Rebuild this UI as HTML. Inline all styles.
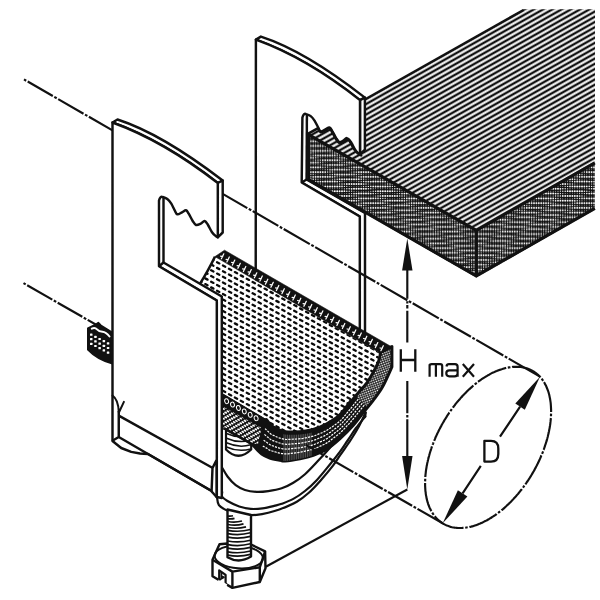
<!DOCTYPE html>
<html><head><meta charset="utf-8"><title>Pipe clamp</title>
<style>html,body{margin:0;padding:0;background:#fff;overflow:hidden;}svg{display:block;}</style></head>
<body>
<svg width="600" height="600" viewBox="0 0 600 600" style="font-family:'Liberation Sans',sans-serif">
<defs>
<pattern id="stripes" width="20" height="4.55" patternUnits="userSpaceOnUse" patternTransform="translate(523.5,10) rotate(-29.44)">
  <rect x="0" y="-1.2" width="20" height="2.4" fill="#111"/>
  <rect x="0" y="3.35" width="20" height="1.2" fill="#111"/>
</pattern>
<pattern id="mesh" width="5.93" height="5.7" patternUnits="userSpaceOnUse" patternTransform="matrix(1,0.556,0,1,262.7,320.5)">
  <rect x="-2.3" y="-1.1" width="4.6" height="2.2" rx="1.05" transform="translate(2.96,2.85) matrix(1,-0.556,0,1,0,0) rotate(27)" fill="#0a0a0a"/>
</pattern>
<pattern id="rim" width="2.2" height="2.2" patternUnits="userSpaceOnUse" patternTransform="rotate(-20)">
  <rect width="2.2" height="2.2" fill="#111"/>
  <circle cx="1.1" cy="1.1" r="0.8" fill="#fff"/>
</pattern>
<pattern id="checker" width="4.4" height="4.4" patternUnits="userSpaceOnUse" patternTransform="matrix(1,0.556,0,1,0,0)">
  <rect width="4.4" height="4.4" fill="#111"/>
  <rect x="0" y="0" width="2.2" height="2.0" fill="#fff"/>
  <rect x="2.2" y="2.2" width="2.2" height="2.0" fill="#fff"/>
</pattern>
</defs>
<defs><pattern id="denseL" width="48.0" height="47.5" patternUnits="userSpaceOnUse" patternTransform="matrix(1,0,0,1,0,0)"><rect width="48.0" height="47.5" fill="#111"/><circle cx="1.20" cy="1.19" r="0.98" fill="#fff"/><circle cx="3.60" cy="1.19" r="0.98" fill="#fff"/><circle cx="6.00" cy="1.19" r="0.98" fill="#fff"/><circle cx="8.40" cy="1.19" r="0.89" fill="#fff"/><circle cx="10.80" cy="1.19" r="0.78" fill="#fff"/><circle cx="13.20" cy="1.19" r="0.67" fill="#fff"/><circle cx="15.60" cy="1.19" r="0.59" fill="#fff"/><circle cx="18.00" cy="1.19" r="0.52" fill="#fff"/><circle cx="20.40" cy="1.19" r="0.47" fill="#fff"/><circle cx="22.80" cy="1.19" r="0.44" fill="#fff"/><circle cx="25.20" cy="1.19" r="0.43" fill="#fff"/><circle cx="27.60" cy="1.19" r="0.43" fill="#fff"/><circle cx="30.00" cy="1.19" r="0.44" fill="#fff"/><circle cx="32.40" cy="1.19" r="0.49" fill="#fff"/><circle cx="34.80" cy="1.19" r="0.57" fill="#fff"/><circle cx="37.20" cy="1.19" r="0.67" fill="#fff"/><circle cx="39.60" cy="1.19" r="0.80" fill="#fff"/><circle cx="42.00" cy="1.19" r="0.92" fill="#fff"/><circle cx="44.40" cy="1.19" r="0.98" fill="#fff"/><circle cx="46.80" cy="1.19" r="0.98" fill="#fff"/><circle cx="1.20" cy="3.56" r="0.44" fill="#fff"/><circle cx="3.60" cy="3.56" r="0.41" fill="#fff"/><circle cx="6.00" cy="3.56" r="0.40" fill="#fff"/><circle cx="8.40" cy="3.56" r="0.42" fill="#fff"/><circle cx="10.80" cy="3.56" r="0.47" fill="#fff"/><circle cx="13.20" cy="3.56" r="0.57" fill="#fff"/><circle cx="15.60" cy="3.56" r="0.69" fill="#fff"/><circle cx="18.00" cy="3.56" r="0.83" fill="#fff"/><circle cx="20.40" cy="3.56" r="0.95" fill="#fff"/><circle cx="22.80" cy="3.56" r="0.98" fill="#fff"/><circle cx="25.20" cy="3.56" r="0.98" fill="#fff"/><circle cx="27.60" cy="3.56" r="0.98" fill="#fff"/><circle cx="30.00" cy="3.56" r="0.98" fill="#fff"/><circle cx="32.40" cy="3.56" r="0.97" fill="#fff"/><circle cx="34.80" cy="3.56" r="0.87" fill="#fff"/><circle cx="37.20" cy="3.56" r="0.78" fill="#fff"/><circle cx="39.60" cy="3.56" r="0.69" fill="#fff"/><circle cx="42.00" cy="3.56" r="0.61" fill="#fff"/><circle cx="44.40" cy="3.56" r="0.55" fill="#fff"/><circle cx="46.80" cy="3.56" r="0.49" fill="#fff"/><circle cx="1.20" cy="5.94" r="0.98" fill="#fff"/><circle cx="3.60" cy="5.94" r="0.98" fill="#fff"/><circle cx="6.00" cy="5.94" r="0.98" fill="#fff"/><circle cx="8.40" cy="5.94" r="0.98" fill="#fff"/><circle cx="10.80" cy="5.94" r="0.95" fill="#fff"/><circle cx="13.20" cy="5.94" r="0.87" fill="#fff"/><circle cx="15.60" cy="5.94" r="0.80" fill="#fff"/><circle cx="18.00" cy="5.94" r="0.72" fill="#fff"/><circle cx="20.40" cy="5.94" r="0.64" fill="#fff"/><circle cx="22.80" cy="5.94" r="0.57" fill="#fff"/><circle cx="25.20" cy="5.94" r="0.49" fill="#fff"/><circle cx="27.60" cy="5.94" r="0.43" fill="#fff"/><circle cx="30.00" cy="5.94" r="0.38" fill="#fff"/><circle cx="32.40" cy="5.94" r="0.37" fill="#fff"/><circle cx="34.80" cy="5.94" r="0.40" fill="#fff"/><circle cx="37.20" cy="5.94" r="0.47" fill="#fff"/><circle cx="39.60" cy="5.94" r="0.59" fill="#fff"/><circle cx="42.00" cy="5.94" r="0.72" fill="#fff"/><circle cx="44.40" cy="5.94" r="0.85" fill="#fff"/><circle cx="46.80" cy="5.94" r="0.97" fill="#fff"/><circle cx="1.20" cy="8.31" r="0.57" fill="#fff"/><circle cx="3.60" cy="8.31" r="0.47" fill="#fff"/><circle cx="6.00" cy="8.31" r="0.40" fill="#fff"/><circle cx="8.40" cy="8.31" r="0.35" fill="#fff"/><circle cx="10.80" cy="8.31" r="0.35" fill="#fff"/><circle cx="13.20" cy="8.31" r="0.40" fill="#fff"/><circle cx="15.60" cy="8.31" r="0.49" fill="#fff"/><circle cx="18.00" cy="8.31" r="0.61" fill="#fff"/><circle cx="20.40" cy="8.31" r="0.75" fill="#fff"/><circle cx="22.80" cy="8.31" r="0.87" fill="#fff"/><circle cx="25.20" cy="8.31" r="0.97" fill="#fff"/><circle cx="27.60" cy="8.31" r="0.98" fill="#fff"/><circle cx="30.00" cy="8.31" r="0.98" fill="#fff"/><circle cx="32.40" cy="8.31" r="0.98" fill="#fff"/><circle cx="34.80" cy="8.31" r="0.98" fill="#fff"/><circle cx="37.20" cy="8.31" r="0.95" fill="#fff"/><circle cx="39.60" cy="8.31" r="0.89" fill="#fff"/><circle cx="42.00" cy="8.31" r="0.83" fill="#fff"/><circle cx="44.40" cy="8.31" r="0.75" fill="#fff"/><circle cx="46.80" cy="8.31" r="0.66" fill="#fff"/><circle cx="1.20" cy="10.69" r="0.87" fill="#fff"/><circle cx="3.60" cy="10.69" r="0.95" fill="#fff"/><circle cx="6.00" cy="10.69" r="0.98" fill="#fff"/><circle cx="8.40" cy="10.69" r="0.98" fill="#fff"/><circle cx="10.80" cy="10.69" r="0.98" fill="#fff"/><circle cx="13.20" cy="10.69" r="0.98" fill="#fff"/><circle cx="15.60" cy="10.69" r="0.97" fill="#fff"/><circle cx="18.00" cy="10.69" r="0.92" fill="#fff"/><circle cx="20.40" cy="10.69" r="0.85" fill="#fff"/><circle cx="22.80" cy="10.69" r="0.77" fill="#fff"/><circle cx="25.20" cy="10.69" r="0.66" fill="#fff"/><circle cx="27.60" cy="10.69" r="0.55" fill="#fff"/><circle cx="30.00" cy="10.69" r="0.44" fill="#fff"/><circle cx="32.40" cy="10.69" r="0.37" fill="#fff"/><circle cx="34.80" cy="10.69" r="0.33" fill="#fff"/><circle cx="37.20" cy="10.69" r="0.35" fill="#fff"/><circle cx="39.60" cy="10.69" r="0.42" fill="#fff"/><circle cx="42.00" cy="10.69" r="0.52" fill="#fff"/><circle cx="44.40" cy="10.69" r="0.64" fill="#fff"/><circle cx="46.80" cy="10.69" r="0.77" fill="#fff"/><circle cx="1.20" cy="13.06" r="0.77" fill="#fff"/><circle cx="3.60" cy="13.06" r="0.64" fill="#fff"/><circle cx="6.00" cy="13.06" r="0.52" fill="#fff"/><circle cx="8.40" cy="13.06" r="0.42" fill="#fff"/><circle cx="10.80" cy="13.06" r="0.35" fill="#fff"/><circle cx="13.20" cy="13.06" r="0.33" fill="#fff"/><circle cx="15.60" cy="13.06" r="0.37" fill="#fff"/><circle cx="18.00" cy="13.06" r="0.44" fill="#fff"/><circle cx="20.40" cy="13.06" r="0.55" fill="#fff"/><circle cx="22.80" cy="13.06" r="0.66" fill="#fff"/><circle cx="25.20" cy="13.06" r="0.77" fill="#fff"/><circle cx="27.60" cy="13.06" r="0.85" fill="#fff"/><circle cx="30.00" cy="13.06" r="0.92" fill="#fff"/><circle cx="32.40" cy="13.06" r="0.97" fill="#fff"/><circle cx="34.80" cy="13.06" r="0.98" fill="#fff"/><circle cx="37.20" cy="13.06" r="0.98" fill="#fff"/><circle cx="39.60" cy="13.06" r="0.98" fill="#fff"/><circle cx="42.00" cy="13.06" r="0.98" fill="#fff"/><circle cx="44.40" cy="13.06" r="0.95" fill="#fff"/><circle cx="46.80" cy="13.06" r="0.87" fill="#fff"/><circle cx="1.20" cy="15.44" r="0.66" fill="#fff"/><circle cx="3.60" cy="15.44" r="0.75" fill="#fff"/><circle cx="6.00" cy="15.44" r="0.83" fill="#fff"/><circle cx="8.40" cy="15.44" r="0.89" fill="#fff"/><circle cx="10.80" cy="15.44" r="0.95" fill="#fff"/><circle cx="13.20" cy="15.44" r="0.98" fill="#fff"/><circle cx="15.60" cy="15.44" r="0.98" fill="#fff"/><circle cx="18.00" cy="15.44" r="0.98" fill="#fff"/><circle cx="20.40" cy="15.44" r="0.98" fill="#fff"/><circle cx="22.80" cy="15.44" r="0.97" fill="#fff"/><circle cx="25.20" cy="15.44" r="0.87" fill="#fff"/><circle cx="27.60" cy="15.44" r="0.75" fill="#fff"/><circle cx="30.00" cy="15.44" r="0.61" fill="#fff"/><circle cx="32.40" cy="15.44" r="0.49" fill="#fff"/><circle cx="34.80" cy="15.44" r="0.40" fill="#fff"/><circle cx="37.20" cy="15.44" r="0.35" fill="#fff"/><circle cx="39.60" cy="15.44" r="0.35" fill="#fff"/><circle cx="42.00" cy="15.44" r="0.40" fill="#fff"/><circle cx="44.40" cy="15.44" r="0.47" fill="#fff"/><circle cx="46.80" cy="15.44" r="0.57" fill="#fff"/><circle cx="1.20" cy="17.81" r="0.97" fill="#fff"/><circle cx="3.60" cy="17.81" r="0.85" fill="#fff"/><circle cx="6.00" cy="17.81" r="0.72" fill="#fff"/><circle cx="8.40" cy="17.81" r="0.59" fill="#fff"/><circle cx="10.80" cy="17.81" r="0.47" fill="#fff"/><circle cx="13.20" cy="17.81" r="0.40" fill="#fff"/><circle cx="15.60" cy="17.81" r="0.37" fill="#fff"/><circle cx="18.00" cy="17.81" r="0.38" fill="#fff"/><circle cx="20.40" cy="17.81" r="0.43" fill="#fff"/><circle cx="22.80" cy="17.81" r="0.49" fill="#fff"/><circle cx="25.20" cy="17.81" r="0.57" fill="#fff"/><circle cx="27.60" cy="17.81" r="0.64" fill="#fff"/><circle cx="30.00" cy="17.81" r="0.72" fill="#fff"/><circle cx="32.40" cy="17.81" r="0.80" fill="#fff"/><circle cx="34.80" cy="17.81" r="0.87" fill="#fff"/><circle cx="37.20" cy="17.81" r="0.95" fill="#fff"/><circle cx="39.60" cy="17.81" r="0.98" fill="#fff"/><circle cx="42.00" cy="17.81" r="0.98" fill="#fff"/><circle cx="44.40" cy="17.81" r="0.98" fill="#fff"/><circle cx="46.80" cy="17.81" r="0.98" fill="#fff"/><circle cx="1.20" cy="20.19" r="0.49" fill="#fff"/><circle cx="3.60" cy="20.19" r="0.55" fill="#fff"/><circle cx="6.00" cy="20.19" r="0.61" fill="#fff"/><circle cx="8.40" cy="20.19" r="0.69" fill="#fff"/><circle cx="10.80" cy="20.19" r="0.78" fill="#fff"/><circle cx="13.20" cy="20.19" r="0.87" fill="#fff"/><circle cx="15.60" cy="20.19" r="0.97" fill="#fff"/><circle cx="18.00" cy="20.19" r="0.98" fill="#fff"/><circle cx="20.40" cy="20.19" r="0.98" fill="#fff"/><circle cx="22.80" cy="20.19" r="0.98" fill="#fff"/><circle cx="25.20" cy="20.19" r="0.98" fill="#fff"/><circle cx="27.60" cy="20.19" r="0.95" fill="#fff"/><circle cx="30.00" cy="20.19" r="0.83" fill="#fff"/><circle cx="32.40" cy="20.19" r="0.69" fill="#fff"/><circle cx="34.80" cy="20.19" r="0.57" fill="#fff"/><circle cx="37.20" cy="20.19" r="0.47" fill="#fff"/><circle cx="39.60" cy="20.19" r="0.42" fill="#fff"/><circle cx="42.00" cy="20.19" r="0.40" fill="#fff"/><circle cx="44.40" cy="20.19" r="0.41" fill="#fff"/><circle cx="46.80" cy="20.19" r="0.44" fill="#fff"/><circle cx="1.20" cy="22.56" r="0.98" fill="#fff"/><circle cx="3.60" cy="22.56" r="0.98" fill="#fff"/><circle cx="6.00" cy="22.56" r="0.92" fill="#fff"/><circle cx="8.40" cy="22.56" r="0.80" fill="#fff"/><circle cx="10.80" cy="22.56" r="0.67" fill="#fff"/><circle cx="13.20" cy="22.56" r="0.57" fill="#fff"/><circle cx="15.60" cy="22.56" r="0.49" fill="#fff"/><circle cx="18.00" cy="22.56" r="0.44" fill="#fff"/><circle cx="20.40" cy="22.56" r="0.43" fill="#fff"/><circle cx="22.80" cy="22.56" r="0.43" fill="#fff"/><circle cx="25.20" cy="22.56" r="0.44" fill="#fff"/><circle cx="27.60" cy="22.56" r="0.47" fill="#fff"/><circle cx="30.00" cy="22.56" r="0.52" fill="#fff"/><circle cx="32.40" cy="22.56" r="0.59" fill="#fff"/><circle cx="34.80" cy="22.56" r="0.67" fill="#fff"/><circle cx="37.20" cy="22.56" r="0.78" fill="#fff"/><circle cx="39.60" cy="22.56" r="0.89" fill="#fff"/><circle cx="42.00" cy="22.56" r="0.98" fill="#fff"/><circle cx="44.40" cy="22.56" r="0.98" fill="#fff"/><circle cx="46.80" cy="22.56" r="0.98" fill="#fff"/><circle cx="1.20" cy="24.94" r="0.43" fill="#fff"/><circle cx="3.60" cy="24.94" r="0.43" fill="#fff"/><circle cx="6.00" cy="24.94" r="0.44" fill="#fff"/><circle cx="8.40" cy="24.94" r="0.49" fill="#fff"/><circle cx="10.80" cy="24.94" r="0.57" fill="#fff"/><circle cx="13.20" cy="24.94" r="0.67" fill="#fff"/><circle cx="15.60" cy="24.94" r="0.80" fill="#fff"/><circle cx="18.00" cy="24.94" r="0.92" fill="#fff"/><circle cx="20.40" cy="24.94" r="0.98" fill="#fff"/><circle cx="22.80" cy="24.94" r="0.98" fill="#fff"/><circle cx="25.20" cy="24.94" r="0.98" fill="#fff"/><circle cx="27.60" cy="24.94" r="0.98" fill="#fff"/><circle cx="30.00" cy="24.94" r="0.98" fill="#fff"/><circle cx="32.40" cy="24.94" r="0.89" fill="#fff"/><circle cx="34.80" cy="24.94" r="0.78" fill="#fff"/><circle cx="37.20" cy="24.94" r="0.67" fill="#fff"/><circle cx="39.60" cy="24.94" r="0.59" fill="#fff"/><circle cx="42.00" cy="24.94" r="0.52" fill="#fff"/><circle cx="44.40" cy="24.94" r="0.47" fill="#fff"/><circle cx="46.80" cy="24.94" r="0.44" fill="#fff"/><circle cx="1.20" cy="27.31" r="0.98" fill="#fff"/><circle cx="3.60" cy="27.31" r="0.98" fill="#fff"/><circle cx="6.00" cy="27.31" r="0.98" fill="#fff"/><circle cx="8.40" cy="27.31" r="0.97" fill="#fff"/><circle cx="10.80" cy="27.31" r="0.87" fill="#fff"/><circle cx="13.20" cy="27.31" r="0.78" fill="#fff"/><circle cx="15.60" cy="27.31" r="0.69" fill="#fff"/><circle cx="18.00" cy="27.31" r="0.61" fill="#fff"/><circle cx="20.40" cy="27.31" r="0.55" fill="#fff"/><circle cx="22.80" cy="27.31" r="0.49" fill="#fff"/><circle cx="25.20" cy="27.31" r="0.44" fill="#fff"/><circle cx="27.60" cy="27.31" r="0.41" fill="#fff"/><circle cx="30.00" cy="27.31" r="0.40" fill="#fff"/><circle cx="32.40" cy="27.31" r="0.42" fill="#fff"/><circle cx="34.80" cy="27.31" r="0.47" fill="#fff"/><circle cx="37.20" cy="27.31" r="0.57" fill="#fff"/><circle cx="39.60" cy="27.31" r="0.69" fill="#fff"/><circle cx="42.00" cy="27.31" r="0.83" fill="#fff"/><circle cx="44.40" cy="27.31" r="0.95" fill="#fff"/><circle cx="46.80" cy="27.31" r="0.98" fill="#fff"/><circle cx="1.20" cy="29.69" r="0.49" fill="#fff"/><circle cx="3.60" cy="29.69" r="0.43" fill="#fff"/><circle cx="6.00" cy="29.69" r="0.38" fill="#fff"/><circle cx="8.40" cy="29.69" r="0.37" fill="#fff"/><circle cx="10.80" cy="29.69" r="0.40" fill="#fff"/><circle cx="13.20" cy="29.69" r="0.47" fill="#fff"/><circle cx="15.60" cy="29.69" r="0.59" fill="#fff"/><circle cx="18.00" cy="29.69" r="0.72" fill="#fff"/><circle cx="20.40" cy="29.69" r="0.85" fill="#fff"/><circle cx="22.80" cy="29.69" r="0.97" fill="#fff"/><circle cx="25.20" cy="29.69" r="0.98" fill="#fff"/><circle cx="27.60" cy="29.69" r="0.98" fill="#fff"/><circle cx="30.00" cy="29.69" r="0.98" fill="#fff"/><circle cx="32.40" cy="29.69" r="0.98" fill="#fff"/><circle cx="34.80" cy="29.69" r="0.95" fill="#fff"/><circle cx="37.20" cy="29.69" r="0.87" fill="#fff"/><circle cx="39.60" cy="29.69" r="0.80" fill="#fff"/><circle cx="42.00" cy="29.69" r="0.72" fill="#fff"/><circle cx="44.40" cy="29.69" r="0.64" fill="#fff"/><circle cx="46.80" cy="29.69" r="0.57" fill="#fff"/><circle cx="1.20" cy="32.06" r="0.97" fill="#fff"/><circle cx="3.60" cy="32.06" r="0.98" fill="#fff"/><circle cx="6.00" cy="32.06" r="0.98" fill="#fff"/><circle cx="8.40" cy="32.06" r="0.98" fill="#fff"/><circle cx="10.80" cy="32.06" r="0.98" fill="#fff"/><circle cx="13.20" cy="32.06" r="0.95" fill="#fff"/><circle cx="15.60" cy="32.06" r="0.89" fill="#fff"/><circle cx="18.00" cy="32.06" r="0.83" fill="#fff"/><circle cx="20.40" cy="32.06" r="0.75" fill="#fff"/><circle cx="22.80" cy="32.06" r="0.66" fill="#fff"/><circle cx="25.20" cy="32.06" r="0.57" fill="#fff"/><circle cx="27.60" cy="32.06" r="0.47" fill="#fff"/><circle cx="30.00" cy="32.06" r="0.40" fill="#fff"/><circle cx="32.40" cy="32.06" r="0.35" fill="#fff"/><circle cx="34.80" cy="32.06" r="0.35" fill="#fff"/><circle cx="37.20" cy="32.06" r="0.40" fill="#fff"/><circle cx="39.60" cy="32.06" r="0.49" fill="#fff"/><circle cx="42.00" cy="32.06" r="0.61" fill="#fff"/><circle cx="44.40" cy="32.06" r="0.75" fill="#fff"/><circle cx="46.80" cy="32.06" r="0.87" fill="#fff"/><circle cx="1.20" cy="34.44" r="0.66" fill="#fff"/><circle cx="3.60" cy="34.44" r="0.55" fill="#fff"/><circle cx="6.00" cy="34.44" r="0.44" fill="#fff"/><circle cx="8.40" cy="34.44" r="0.37" fill="#fff"/><circle cx="10.80" cy="34.44" r="0.33" fill="#fff"/><circle cx="13.20" cy="34.44" r="0.35" fill="#fff"/><circle cx="15.60" cy="34.44" r="0.42" fill="#fff"/><circle cx="18.00" cy="34.44" r="0.52" fill="#fff"/><circle cx="20.40" cy="34.44" r="0.64" fill="#fff"/><circle cx="22.80" cy="34.44" r="0.77" fill="#fff"/><circle cx="25.20" cy="34.44" r="0.87" fill="#fff"/><circle cx="27.60" cy="34.44" r="0.95" fill="#fff"/><circle cx="30.00" cy="34.44" r="0.98" fill="#fff"/><circle cx="32.40" cy="34.44" r="0.98" fill="#fff"/><circle cx="34.80" cy="34.44" r="0.98" fill="#fff"/><circle cx="37.20" cy="34.44" r="0.98" fill="#fff"/><circle cx="39.60" cy="34.44" r="0.97" fill="#fff"/><circle cx="42.00" cy="34.44" r="0.92" fill="#fff"/><circle cx="44.40" cy="34.44" r="0.85" fill="#fff"/><circle cx="46.80" cy="34.44" r="0.77" fill="#fff"/><circle cx="1.20" cy="36.81" r="0.77" fill="#fff"/><circle cx="3.60" cy="36.81" r="0.85" fill="#fff"/><circle cx="6.00" cy="36.81" r="0.92" fill="#fff"/><circle cx="8.40" cy="36.81" r="0.97" fill="#fff"/><circle cx="10.80" cy="36.81" r="0.98" fill="#fff"/><circle cx="13.20" cy="36.81" r="0.98" fill="#fff"/><circle cx="15.60" cy="36.81" r="0.98" fill="#fff"/><circle cx="18.00" cy="36.81" r="0.98" fill="#fff"/><circle cx="20.40" cy="36.81" r="0.95" fill="#fff"/><circle cx="22.80" cy="36.81" r="0.87" fill="#fff"/><circle cx="25.20" cy="36.81" r="0.77" fill="#fff"/><circle cx="27.60" cy="36.81" r="0.64" fill="#fff"/><circle cx="30.00" cy="36.81" r="0.52" fill="#fff"/><circle cx="32.40" cy="36.81" r="0.42" fill="#fff"/><circle cx="34.80" cy="36.81" r="0.35" fill="#fff"/><circle cx="37.20" cy="36.81" r="0.33" fill="#fff"/><circle cx="39.60" cy="36.81" r="0.37" fill="#fff"/><circle cx="42.00" cy="36.81" r="0.44" fill="#fff"/><circle cx="44.40" cy="36.81" r="0.55" fill="#fff"/><circle cx="46.80" cy="36.81" r="0.66" fill="#fff"/><circle cx="1.20" cy="39.19" r="0.87" fill="#fff"/><circle cx="3.60" cy="39.19" r="0.75" fill="#fff"/><circle cx="6.00" cy="39.19" r="0.61" fill="#fff"/><circle cx="8.40" cy="39.19" r="0.49" fill="#fff"/><circle cx="10.80" cy="39.19" r="0.40" fill="#fff"/><circle cx="13.20" cy="39.19" r="0.35" fill="#fff"/><circle cx="15.60" cy="39.19" r="0.35" fill="#fff"/><circle cx="18.00" cy="39.19" r="0.40" fill="#fff"/><circle cx="20.40" cy="39.19" r="0.47" fill="#fff"/><circle cx="22.80" cy="39.19" r="0.57" fill="#fff"/><circle cx="25.20" cy="39.19" r="0.66" fill="#fff"/><circle cx="27.60" cy="39.19" r="0.75" fill="#fff"/><circle cx="30.00" cy="39.19" r="0.83" fill="#fff"/><circle cx="32.40" cy="39.19" r="0.89" fill="#fff"/><circle cx="34.80" cy="39.19" r="0.95" fill="#fff"/><circle cx="37.20" cy="39.19" r="0.98" fill="#fff"/><circle cx="39.60" cy="39.19" r="0.98" fill="#fff"/><circle cx="42.00" cy="39.19" r="0.98" fill="#fff"/><circle cx="44.40" cy="39.19" r="0.98" fill="#fff"/><circle cx="46.80" cy="39.19" r="0.97" fill="#fff"/><circle cx="1.20" cy="41.56" r="0.57" fill="#fff"/><circle cx="3.60" cy="41.56" r="0.64" fill="#fff"/><circle cx="6.00" cy="41.56" r="0.72" fill="#fff"/><circle cx="8.40" cy="41.56" r="0.80" fill="#fff"/><circle cx="10.80" cy="41.56" r="0.87" fill="#fff"/><circle cx="13.20" cy="41.56" r="0.95" fill="#fff"/><circle cx="15.60" cy="41.56" r="0.98" fill="#fff"/><circle cx="18.00" cy="41.56" r="0.98" fill="#fff"/><circle cx="20.40" cy="41.56" r="0.98" fill="#fff"/><circle cx="22.80" cy="41.56" r="0.98" fill="#fff"/><circle cx="25.20" cy="41.56" r="0.97" fill="#fff"/><circle cx="27.60" cy="41.56" r="0.85" fill="#fff"/><circle cx="30.00" cy="41.56" r="0.72" fill="#fff"/><circle cx="32.40" cy="41.56" r="0.59" fill="#fff"/><circle cx="34.80" cy="41.56" r="0.47" fill="#fff"/><circle cx="37.20" cy="41.56" r="0.40" fill="#fff"/><circle cx="39.60" cy="41.56" r="0.37" fill="#fff"/><circle cx="42.00" cy="41.56" r="0.38" fill="#fff"/><circle cx="44.40" cy="41.56" r="0.43" fill="#fff"/><circle cx="46.80" cy="41.56" r="0.49" fill="#fff"/><circle cx="1.20" cy="43.94" r="0.98" fill="#fff"/><circle cx="3.60" cy="43.94" r="0.95" fill="#fff"/><circle cx="6.00" cy="43.94" r="0.83" fill="#fff"/><circle cx="8.40" cy="43.94" r="0.69" fill="#fff"/><circle cx="10.80" cy="43.94" r="0.57" fill="#fff"/><circle cx="13.20" cy="43.94" r="0.47" fill="#fff"/><circle cx="15.60" cy="43.94" r="0.42" fill="#fff"/><circle cx="18.00" cy="43.94" r="0.40" fill="#fff"/><circle cx="20.40" cy="43.94" r="0.41" fill="#fff"/><circle cx="22.80" cy="43.94" r="0.44" fill="#fff"/><circle cx="25.20" cy="43.94" r="0.49" fill="#fff"/><circle cx="27.60" cy="43.94" r="0.55" fill="#fff"/><circle cx="30.00" cy="43.94" r="0.61" fill="#fff"/><circle cx="32.40" cy="43.94" r="0.69" fill="#fff"/><circle cx="34.80" cy="43.94" r="0.78" fill="#fff"/><circle cx="37.20" cy="43.94" r="0.87" fill="#fff"/><circle cx="39.60" cy="43.94" r="0.97" fill="#fff"/><circle cx="42.00" cy="43.94" r="0.98" fill="#fff"/><circle cx="44.40" cy="43.94" r="0.98" fill="#fff"/><circle cx="46.80" cy="43.94" r="0.98" fill="#fff"/><circle cx="1.20" cy="46.31" r="0.44" fill="#fff"/><circle cx="3.60" cy="46.31" r="0.47" fill="#fff"/><circle cx="6.00" cy="46.31" r="0.52" fill="#fff"/><circle cx="8.40" cy="46.31" r="0.59" fill="#fff"/><circle cx="10.80" cy="46.31" r="0.67" fill="#fff"/><circle cx="13.20" cy="46.31" r="0.78" fill="#fff"/><circle cx="15.60" cy="46.31" r="0.89" fill="#fff"/><circle cx="18.00" cy="46.31" r="0.98" fill="#fff"/><circle cx="20.40" cy="46.31" r="0.98" fill="#fff"/><circle cx="22.80" cy="46.31" r="0.98" fill="#fff"/><circle cx="25.20" cy="46.31" r="0.98" fill="#fff"/><circle cx="27.60" cy="46.31" r="0.98" fill="#fff"/><circle cx="30.00" cy="46.31" r="0.92" fill="#fff"/><circle cx="32.40" cy="46.31" r="0.80" fill="#fff"/><circle cx="34.80" cy="46.31" r="0.67" fill="#fff"/><circle cx="37.20" cy="46.31" r="0.57" fill="#fff"/><circle cx="39.60" cy="46.31" r="0.49" fill="#fff"/><circle cx="42.00" cy="46.31" r="0.44" fill="#fff"/><circle cx="44.40" cy="46.31" r="0.43" fill="#fff"/><circle cx="46.80" cy="46.31" r="0.43" fill="#fff"/></pattern><pattern id="denseR" width="48.0" height="47.5" patternUnits="userSpaceOnUse" patternTransform="matrix(1,0,0,1,0,0)"><rect width="48.0" height="47.5" fill="#111"/><circle cx="1.20" cy="1.19" r="0.98" fill="#fff"/><circle cx="3.60" cy="1.19" r="0.98" fill="#fff"/><circle cx="6.00" cy="1.19" r="0.92" fill="#fff"/><circle cx="8.40" cy="1.19" r="0.80" fill="#fff"/><circle cx="10.80" cy="1.19" r="0.67" fill="#fff"/><circle cx="13.20" cy="1.19" r="0.57" fill="#fff"/><circle cx="15.60" cy="1.19" r="0.49" fill="#fff"/><circle cx="18.00" cy="1.19" r="0.44" fill="#fff"/><circle cx="20.40" cy="1.19" r="0.43" fill="#fff"/><circle cx="22.80" cy="1.19" r="0.43" fill="#fff"/><circle cx="25.20" cy="1.19" r="0.44" fill="#fff"/><circle cx="27.60" cy="1.19" r="0.47" fill="#fff"/><circle cx="30.00" cy="1.19" r="0.52" fill="#fff"/><circle cx="32.40" cy="1.19" r="0.59" fill="#fff"/><circle cx="34.80" cy="1.19" r="0.67" fill="#fff"/><circle cx="37.20" cy="1.19" r="0.78" fill="#fff"/><circle cx="39.60" cy="1.19" r="0.89" fill="#fff"/><circle cx="42.00" cy="1.19" r="0.98" fill="#fff"/><circle cx="44.40" cy="1.19" r="0.98" fill="#fff"/><circle cx="46.80" cy="1.19" r="0.98" fill="#fff"/><circle cx="1.20" cy="3.56" r="0.49" fill="#fff"/><circle cx="3.60" cy="3.56" r="0.55" fill="#fff"/><circle cx="6.00" cy="3.56" r="0.61" fill="#fff"/><circle cx="8.40" cy="3.56" r="0.69" fill="#fff"/><circle cx="10.80" cy="3.56" r="0.78" fill="#fff"/><circle cx="13.20" cy="3.56" r="0.87" fill="#fff"/><circle cx="15.60" cy="3.56" r="0.97" fill="#fff"/><circle cx="18.00" cy="3.56" r="0.98" fill="#fff"/><circle cx="20.40" cy="3.56" r="0.98" fill="#fff"/><circle cx="22.80" cy="3.56" r="0.98" fill="#fff"/><circle cx="25.20" cy="3.56" r="0.98" fill="#fff"/><circle cx="27.60" cy="3.56" r="0.95" fill="#fff"/><circle cx="30.00" cy="3.56" r="0.83" fill="#fff"/><circle cx="32.40" cy="3.56" r="0.69" fill="#fff"/><circle cx="34.80" cy="3.56" r="0.57" fill="#fff"/><circle cx="37.20" cy="3.56" r="0.47" fill="#fff"/><circle cx="39.60" cy="3.56" r="0.42" fill="#fff"/><circle cx="42.00" cy="3.56" r="0.40" fill="#fff"/><circle cx="44.40" cy="3.56" r="0.41" fill="#fff"/><circle cx="46.80" cy="3.56" r="0.44" fill="#fff"/><circle cx="1.20" cy="5.94" r="0.97" fill="#fff"/><circle cx="3.60" cy="5.94" r="0.85" fill="#fff"/><circle cx="6.00" cy="5.94" r="0.72" fill="#fff"/><circle cx="8.40" cy="5.94" r="0.59" fill="#fff"/><circle cx="10.80" cy="5.94" r="0.47" fill="#fff"/><circle cx="13.20" cy="5.94" r="0.40" fill="#fff"/><circle cx="15.60" cy="5.94" r="0.37" fill="#fff"/><circle cx="18.00" cy="5.94" r="0.38" fill="#fff"/><circle cx="20.40" cy="5.94" r="0.43" fill="#fff"/><circle cx="22.80" cy="5.94" r="0.49" fill="#fff"/><circle cx="25.20" cy="5.94" r="0.57" fill="#fff"/><circle cx="27.60" cy="5.94" r="0.64" fill="#fff"/><circle cx="30.00" cy="5.94" r="0.72" fill="#fff"/><circle cx="32.40" cy="5.94" r="0.80" fill="#fff"/><circle cx="34.80" cy="5.94" r="0.87" fill="#fff"/><circle cx="37.20" cy="5.94" r="0.95" fill="#fff"/><circle cx="39.60" cy="5.94" r="0.98" fill="#fff"/><circle cx="42.00" cy="5.94" r="0.98" fill="#fff"/><circle cx="44.40" cy="5.94" r="0.98" fill="#fff"/><circle cx="46.80" cy="5.94" r="0.98" fill="#fff"/><circle cx="1.20" cy="8.31" r="0.66" fill="#fff"/><circle cx="3.60" cy="8.31" r="0.75" fill="#fff"/><circle cx="6.00" cy="8.31" r="0.83" fill="#fff"/><circle cx="8.40" cy="8.31" r="0.89" fill="#fff"/><circle cx="10.80" cy="8.31" r="0.95" fill="#fff"/><circle cx="13.20" cy="8.31" r="0.98" fill="#fff"/><circle cx="15.60" cy="8.31" r="0.98" fill="#fff"/><circle cx="18.00" cy="8.31" r="0.98" fill="#fff"/><circle cx="20.40" cy="8.31" r="0.98" fill="#fff"/><circle cx="22.80" cy="8.31" r="0.97" fill="#fff"/><circle cx="25.20" cy="8.31" r="0.87" fill="#fff"/><circle cx="27.60" cy="8.31" r="0.75" fill="#fff"/><circle cx="30.00" cy="8.31" r="0.61" fill="#fff"/><circle cx="32.40" cy="8.31" r="0.49" fill="#fff"/><circle cx="34.80" cy="8.31" r="0.40" fill="#fff"/><circle cx="37.20" cy="8.31" r="0.35" fill="#fff"/><circle cx="39.60" cy="8.31" r="0.35" fill="#fff"/><circle cx="42.00" cy="8.31" r="0.40" fill="#fff"/><circle cx="44.40" cy="8.31" r="0.47" fill="#fff"/><circle cx="46.80" cy="8.31" r="0.57" fill="#fff"/><circle cx="1.20" cy="10.69" r="0.77" fill="#fff"/><circle cx="3.60" cy="10.69" r="0.64" fill="#fff"/><circle cx="6.00" cy="10.69" r="0.52" fill="#fff"/><circle cx="8.40" cy="10.69" r="0.42" fill="#fff"/><circle cx="10.80" cy="10.69" r="0.35" fill="#fff"/><circle cx="13.20" cy="10.69" r="0.33" fill="#fff"/><circle cx="15.60" cy="10.69" r="0.37" fill="#fff"/><circle cx="18.00" cy="10.69" r="0.44" fill="#fff"/><circle cx="20.40" cy="10.69" r="0.55" fill="#fff"/><circle cx="22.80" cy="10.69" r="0.66" fill="#fff"/><circle cx="25.20" cy="10.69" r="0.77" fill="#fff"/><circle cx="27.60" cy="10.69" r="0.85" fill="#fff"/><circle cx="30.00" cy="10.69" r="0.92" fill="#fff"/><circle cx="32.40" cy="10.69" r="0.97" fill="#fff"/><circle cx="34.80" cy="10.69" r="0.98" fill="#fff"/><circle cx="37.20" cy="10.69" r="0.98" fill="#fff"/><circle cx="39.60" cy="10.69" r="0.98" fill="#fff"/><circle cx="42.00" cy="10.69" r="0.98" fill="#fff"/><circle cx="44.40" cy="10.69" r="0.95" fill="#fff"/><circle cx="46.80" cy="10.69" r="0.87" fill="#fff"/><circle cx="1.20" cy="13.06" r="0.87" fill="#fff"/><circle cx="3.60" cy="13.06" r="0.95" fill="#fff"/><circle cx="6.00" cy="13.06" r="0.98" fill="#fff"/><circle cx="8.40" cy="13.06" r="0.98" fill="#fff"/><circle cx="10.80" cy="13.06" r="0.98" fill="#fff"/><circle cx="13.20" cy="13.06" r="0.98" fill="#fff"/><circle cx="15.60" cy="13.06" r="0.97" fill="#fff"/><circle cx="18.00" cy="13.06" r="0.92" fill="#fff"/><circle cx="20.40" cy="13.06" r="0.85" fill="#fff"/><circle cx="22.80" cy="13.06" r="0.77" fill="#fff"/><circle cx="25.20" cy="13.06" r="0.66" fill="#fff"/><circle cx="27.60" cy="13.06" r="0.55" fill="#fff"/><circle cx="30.00" cy="13.06" r="0.44" fill="#fff"/><circle cx="32.40" cy="13.06" r="0.37" fill="#fff"/><circle cx="34.80" cy="13.06" r="0.33" fill="#fff"/><circle cx="37.20" cy="13.06" r="0.35" fill="#fff"/><circle cx="39.60" cy="13.06" r="0.42" fill="#fff"/><circle cx="42.00" cy="13.06" r="0.52" fill="#fff"/><circle cx="44.40" cy="13.06" r="0.64" fill="#fff"/><circle cx="46.80" cy="13.06" r="0.77" fill="#fff"/><circle cx="1.20" cy="15.44" r="0.57" fill="#fff"/><circle cx="3.60" cy="15.44" r="0.47" fill="#fff"/><circle cx="6.00" cy="15.44" r="0.40" fill="#fff"/><circle cx="8.40" cy="15.44" r="0.35" fill="#fff"/><circle cx="10.80" cy="15.44" r="0.35" fill="#fff"/><circle cx="13.20" cy="15.44" r="0.40" fill="#fff"/><circle cx="15.60" cy="15.44" r="0.49" fill="#fff"/><circle cx="18.00" cy="15.44" r="0.61" fill="#fff"/><circle cx="20.40" cy="15.44" r="0.75" fill="#fff"/><circle cx="22.80" cy="15.44" r="0.87" fill="#fff"/><circle cx="25.20" cy="15.44" r="0.97" fill="#fff"/><circle cx="27.60" cy="15.44" r="0.98" fill="#fff"/><circle cx="30.00" cy="15.44" r="0.98" fill="#fff"/><circle cx="32.40" cy="15.44" r="0.98" fill="#fff"/><circle cx="34.80" cy="15.44" r="0.98" fill="#fff"/><circle cx="37.20" cy="15.44" r="0.95" fill="#fff"/><circle cx="39.60" cy="15.44" r="0.89" fill="#fff"/><circle cx="42.00" cy="15.44" r="0.83" fill="#fff"/><circle cx="44.40" cy="15.44" r="0.75" fill="#fff"/><circle cx="46.80" cy="15.44" r="0.66" fill="#fff"/><circle cx="1.20" cy="17.81" r="0.98" fill="#fff"/><circle cx="3.60" cy="17.81" r="0.98" fill="#fff"/><circle cx="6.00" cy="17.81" r="0.98" fill="#fff"/><circle cx="8.40" cy="17.81" r="0.98" fill="#fff"/><circle cx="10.80" cy="17.81" r="0.95" fill="#fff"/><circle cx="13.20" cy="17.81" r="0.87" fill="#fff"/><circle cx="15.60" cy="17.81" r="0.80" fill="#fff"/><circle cx="18.00" cy="17.81" r="0.72" fill="#fff"/><circle cx="20.40" cy="17.81" r="0.64" fill="#fff"/><circle cx="22.80" cy="17.81" r="0.57" fill="#fff"/><circle cx="25.20" cy="17.81" r="0.49" fill="#fff"/><circle cx="27.60" cy="17.81" r="0.43" fill="#fff"/><circle cx="30.00" cy="17.81" r="0.38" fill="#fff"/><circle cx="32.40" cy="17.81" r="0.37" fill="#fff"/><circle cx="34.80" cy="17.81" r="0.40" fill="#fff"/><circle cx="37.20" cy="17.81" r="0.47" fill="#fff"/><circle cx="39.60" cy="17.81" r="0.59" fill="#fff"/><circle cx="42.00" cy="17.81" r="0.72" fill="#fff"/><circle cx="44.40" cy="17.81" r="0.85" fill="#fff"/><circle cx="46.80" cy="17.81" r="0.97" fill="#fff"/><circle cx="1.20" cy="20.19" r="0.44" fill="#fff"/><circle cx="3.60" cy="20.19" r="0.41" fill="#fff"/><circle cx="6.00" cy="20.19" r="0.40" fill="#fff"/><circle cx="8.40" cy="20.19" r="0.42" fill="#fff"/><circle cx="10.80" cy="20.19" r="0.47" fill="#fff"/><circle cx="13.20" cy="20.19" r="0.57" fill="#fff"/><circle cx="15.60" cy="20.19" r="0.69" fill="#fff"/><circle cx="18.00" cy="20.19" r="0.83" fill="#fff"/><circle cx="20.40" cy="20.19" r="0.95" fill="#fff"/><circle cx="22.80" cy="20.19" r="0.98" fill="#fff"/><circle cx="25.20" cy="20.19" r="0.98" fill="#fff"/><circle cx="27.60" cy="20.19" r="0.98" fill="#fff"/><circle cx="30.00" cy="20.19" r="0.98" fill="#fff"/><circle cx="32.40" cy="20.19" r="0.97" fill="#fff"/><circle cx="34.80" cy="20.19" r="0.87" fill="#fff"/><circle cx="37.20" cy="20.19" r="0.78" fill="#fff"/><circle cx="39.60" cy="20.19" r="0.69" fill="#fff"/><circle cx="42.00" cy="20.19" r="0.61" fill="#fff"/><circle cx="44.40" cy="20.19" r="0.55" fill="#fff"/><circle cx="46.80" cy="20.19" r="0.49" fill="#fff"/><circle cx="1.20" cy="22.56" r="0.98" fill="#fff"/><circle cx="3.60" cy="22.56" r="0.98" fill="#fff"/><circle cx="6.00" cy="22.56" r="0.98" fill="#fff"/><circle cx="8.40" cy="22.56" r="0.89" fill="#fff"/><circle cx="10.80" cy="22.56" r="0.78" fill="#fff"/><circle cx="13.20" cy="22.56" r="0.67" fill="#fff"/><circle cx="15.60" cy="22.56" r="0.59" fill="#fff"/><circle cx="18.00" cy="22.56" r="0.52" fill="#fff"/><circle cx="20.40" cy="22.56" r="0.47" fill="#fff"/><circle cx="22.80" cy="22.56" r="0.44" fill="#fff"/><circle cx="25.20" cy="22.56" r="0.43" fill="#fff"/><circle cx="27.60" cy="22.56" r="0.43" fill="#fff"/><circle cx="30.00" cy="22.56" r="0.44" fill="#fff"/><circle cx="32.40" cy="22.56" r="0.49" fill="#fff"/><circle cx="34.80" cy="22.56" r="0.57" fill="#fff"/><circle cx="37.20" cy="22.56" r="0.67" fill="#fff"/><circle cx="39.60" cy="22.56" r="0.80" fill="#fff"/><circle cx="42.00" cy="22.56" r="0.92" fill="#fff"/><circle cx="44.40" cy="22.56" r="0.98" fill="#fff"/><circle cx="46.80" cy="22.56" r="0.98" fill="#fff"/><circle cx="1.20" cy="24.94" r="0.44" fill="#fff"/><circle cx="3.60" cy="24.94" r="0.47" fill="#fff"/><circle cx="6.00" cy="24.94" r="0.52" fill="#fff"/><circle cx="8.40" cy="24.94" r="0.59" fill="#fff"/><circle cx="10.80" cy="24.94" r="0.67" fill="#fff"/><circle cx="13.20" cy="24.94" r="0.78" fill="#fff"/><circle cx="15.60" cy="24.94" r="0.89" fill="#fff"/><circle cx="18.00" cy="24.94" r="0.98" fill="#fff"/><circle cx="20.40" cy="24.94" r="0.98" fill="#fff"/><circle cx="22.80" cy="24.94" r="0.98" fill="#fff"/><circle cx="25.20" cy="24.94" r="0.98" fill="#fff"/><circle cx="27.60" cy="24.94" r="0.98" fill="#fff"/><circle cx="30.00" cy="24.94" r="0.92" fill="#fff"/><circle cx="32.40" cy="24.94" r="0.80" fill="#fff"/><circle cx="34.80" cy="24.94" r="0.67" fill="#fff"/><circle cx="37.20" cy="24.94" r="0.57" fill="#fff"/><circle cx="39.60" cy="24.94" r="0.49" fill="#fff"/><circle cx="42.00" cy="24.94" r="0.44" fill="#fff"/><circle cx="44.40" cy="24.94" r="0.43" fill="#fff"/><circle cx="46.80" cy="24.94" r="0.43" fill="#fff"/><circle cx="1.20" cy="27.31" r="0.98" fill="#fff"/><circle cx="3.60" cy="27.31" r="0.95" fill="#fff"/><circle cx="6.00" cy="27.31" r="0.83" fill="#fff"/><circle cx="8.40" cy="27.31" r="0.69" fill="#fff"/><circle cx="10.80" cy="27.31" r="0.57" fill="#fff"/><circle cx="13.20" cy="27.31" r="0.47" fill="#fff"/><circle cx="15.60" cy="27.31" r="0.42" fill="#fff"/><circle cx="18.00" cy="27.31" r="0.40" fill="#fff"/><circle cx="20.40" cy="27.31" r="0.41" fill="#fff"/><circle cx="22.80" cy="27.31" r="0.44" fill="#fff"/><circle cx="25.20" cy="27.31" r="0.49" fill="#fff"/><circle cx="27.60" cy="27.31" r="0.55" fill="#fff"/><circle cx="30.00" cy="27.31" r="0.61" fill="#fff"/><circle cx="32.40" cy="27.31" r="0.69" fill="#fff"/><circle cx="34.80" cy="27.31" r="0.78" fill="#fff"/><circle cx="37.20" cy="27.31" r="0.87" fill="#fff"/><circle cx="39.60" cy="27.31" r="0.97" fill="#fff"/><circle cx="42.00" cy="27.31" r="0.98" fill="#fff"/><circle cx="44.40" cy="27.31" r="0.98" fill="#fff"/><circle cx="46.80" cy="27.31" r="0.98" fill="#fff"/><circle cx="1.20" cy="29.69" r="0.57" fill="#fff"/><circle cx="3.60" cy="29.69" r="0.64" fill="#fff"/><circle cx="6.00" cy="29.69" r="0.72" fill="#fff"/><circle cx="8.40" cy="29.69" r="0.80" fill="#fff"/><circle cx="10.80" cy="29.69" r="0.87" fill="#fff"/><circle cx="13.20" cy="29.69" r="0.95" fill="#fff"/><circle cx="15.60" cy="29.69" r="0.98" fill="#fff"/><circle cx="18.00" cy="29.69" r="0.98" fill="#fff"/><circle cx="20.40" cy="29.69" r="0.98" fill="#fff"/><circle cx="22.80" cy="29.69" r="0.98" fill="#fff"/><circle cx="25.20" cy="29.69" r="0.97" fill="#fff"/><circle cx="27.60" cy="29.69" r="0.85" fill="#fff"/><circle cx="30.00" cy="29.69" r="0.72" fill="#fff"/><circle cx="32.40" cy="29.69" r="0.59" fill="#fff"/><circle cx="34.80" cy="29.69" r="0.47" fill="#fff"/><circle cx="37.20" cy="29.69" r="0.40" fill="#fff"/><circle cx="39.60" cy="29.69" r="0.37" fill="#fff"/><circle cx="42.00" cy="29.69" r="0.38" fill="#fff"/><circle cx="44.40" cy="29.69" r="0.43" fill="#fff"/><circle cx="46.80" cy="29.69" r="0.49" fill="#fff"/><circle cx="1.20" cy="32.06" r="0.87" fill="#fff"/><circle cx="3.60" cy="32.06" r="0.75" fill="#fff"/><circle cx="6.00" cy="32.06" r="0.61" fill="#fff"/><circle cx="8.40" cy="32.06" r="0.49" fill="#fff"/><circle cx="10.80" cy="32.06" r="0.40" fill="#fff"/><circle cx="13.20" cy="32.06" r="0.35" fill="#fff"/><circle cx="15.60" cy="32.06" r="0.35" fill="#fff"/><circle cx="18.00" cy="32.06" r="0.40" fill="#fff"/><circle cx="20.40" cy="32.06" r="0.47" fill="#fff"/><circle cx="22.80" cy="32.06" r="0.57" fill="#fff"/><circle cx="25.20" cy="32.06" r="0.66" fill="#fff"/><circle cx="27.60" cy="32.06" r="0.75" fill="#fff"/><circle cx="30.00" cy="32.06" r="0.83" fill="#fff"/><circle cx="32.40" cy="32.06" r="0.89" fill="#fff"/><circle cx="34.80" cy="32.06" r="0.95" fill="#fff"/><circle cx="37.20" cy="32.06" r="0.98" fill="#fff"/><circle cx="39.60" cy="32.06" r="0.98" fill="#fff"/><circle cx="42.00" cy="32.06" r="0.98" fill="#fff"/><circle cx="44.40" cy="32.06" r="0.98" fill="#fff"/><circle cx="46.80" cy="32.06" r="0.97" fill="#fff"/><circle cx="1.20" cy="34.44" r="0.77" fill="#fff"/><circle cx="3.60" cy="34.44" r="0.85" fill="#fff"/><circle cx="6.00" cy="34.44" r="0.92" fill="#fff"/><circle cx="8.40" cy="34.44" r="0.97" fill="#fff"/><circle cx="10.80" cy="34.44" r="0.98" fill="#fff"/><circle cx="13.20" cy="34.44" r="0.98" fill="#fff"/><circle cx="15.60" cy="34.44" r="0.98" fill="#fff"/><circle cx="18.00" cy="34.44" r="0.98" fill="#fff"/><circle cx="20.40" cy="34.44" r="0.95" fill="#fff"/><circle cx="22.80" cy="34.44" r="0.87" fill="#fff"/><circle cx="25.20" cy="34.44" r="0.77" fill="#fff"/><circle cx="27.60" cy="34.44" r="0.64" fill="#fff"/><circle cx="30.00" cy="34.44" r="0.52" fill="#fff"/><circle cx="32.40" cy="34.44" r="0.42" fill="#fff"/><circle cx="34.80" cy="34.44" r="0.35" fill="#fff"/><circle cx="37.20" cy="34.44" r="0.33" fill="#fff"/><circle cx="39.60" cy="34.44" r="0.37" fill="#fff"/><circle cx="42.00" cy="34.44" r="0.44" fill="#fff"/><circle cx="44.40" cy="34.44" r="0.55" fill="#fff"/><circle cx="46.80" cy="34.44" r="0.66" fill="#fff"/><circle cx="1.20" cy="36.81" r="0.66" fill="#fff"/><circle cx="3.60" cy="36.81" r="0.55" fill="#fff"/><circle cx="6.00" cy="36.81" r="0.44" fill="#fff"/><circle cx="8.40" cy="36.81" r="0.37" fill="#fff"/><circle cx="10.80" cy="36.81" r="0.33" fill="#fff"/><circle cx="13.20" cy="36.81" r="0.35" fill="#fff"/><circle cx="15.60" cy="36.81" r="0.42" fill="#fff"/><circle cx="18.00" cy="36.81" r="0.52" fill="#fff"/><circle cx="20.40" cy="36.81" r="0.64" fill="#fff"/><circle cx="22.80" cy="36.81" r="0.77" fill="#fff"/><circle cx="25.20" cy="36.81" r="0.87" fill="#fff"/><circle cx="27.60" cy="36.81" r="0.95" fill="#fff"/><circle cx="30.00" cy="36.81" r="0.98" fill="#fff"/><circle cx="32.40" cy="36.81" r="0.98" fill="#fff"/><circle cx="34.80" cy="36.81" r="0.98" fill="#fff"/><circle cx="37.20" cy="36.81" r="0.98" fill="#fff"/><circle cx="39.60" cy="36.81" r="0.97" fill="#fff"/><circle cx="42.00" cy="36.81" r="0.92" fill="#fff"/><circle cx="44.40" cy="36.81" r="0.85" fill="#fff"/><circle cx="46.80" cy="36.81" r="0.77" fill="#fff"/><circle cx="1.20" cy="39.19" r="0.97" fill="#fff"/><circle cx="3.60" cy="39.19" r="0.98" fill="#fff"/><circle cx="6.00" cy="39.19" r="0.98" fill="#fff"/><circle cx="8.40" cy="39.19" r="0.98" fill="#fff"/><circle cx="10.80" cy="39.19" r="0.98" fill="#fff"/><circle cx="13.20" cy="39.19" r="0.95" fill="#fff"/><circle cx="15.60" cy="39.19" r="0.89" fill="#fff"/><circle cx="18.00" cy="39.19" r="0.83" fill="#fff"/><circle cx="20.40" cy="39.19" r="0.75" fill="#fff"/><circle cx="22.80" cy="39.19" r="0.66" fill="#fff"/><circle cx="25.20" cy="39.19" r="0.57" fill="#fff"/><circle cx="27.60" cy="39.19" r="0.47" fill="#fff"/><circle cx="30.00" cy="39.19" r="0.40" fill="#fff"/><circle cx="32.40" cy="39.19" r="0.35" fill="#fff"/><circle cx="34.80" cy="39.19" r="0.35" fill="#fff"/><circle cx="37.20" cy="39.19" r="0.40" fill="#fff"/><circle cx="39.60" cy="39.19" r="0.49" fill="#fff"/><circle cx="42.00" cy="39.19" r="0.61" fill="#fff"/><circle cx="44.40" cy="39.19" r="0.75" fill="#fff"/><circle cx="46.80" cy="39.19" r="0.87" fill="#fff"/><circle cx="1.20" cy="41.56" r="0.49" fill="#fff"/><circle cx="3.60" cy="41.56" r="0.43" fill="#fff"/><circle cx="6.00" cy="41.56" r="0.38" fill="#fff"/><circle cx="8.40" cy="41.56" r="0.37" fill="#fff"/><circle cx="10.80" cy="41.56" r="0.40" fill="#fff"/><circle cx="13.20" cy="41.56" r="0.47" fill="#fff"/><circle cx="15.60" cy="41.56" r="0.59" fill="#fff"/><circle cx="18.00" cy="41.56" r="0.72" fill="#fff"/><circle cx="20.40" cy="41.56" r="0.85" fill="#fff"/><circle cx="22.80" cy="41.56" r="0.97" fill="#fff"/><circle cx="25.20" cy="41.56" r="0.98" fill="#fff"/><circle cx="27.60" cy="41.56" r="0.98" fill="#fff"/><circle cx="30.00" cy="41.56" r="0.98" fill="#fff"/><circle cx="32.40" cy="41.56" r="0.98" fill="#fff"/><circle cx="34.80" cy="41.56" r="0.95" fill="#fff"/><circle cx="37.20" cy="41.56" r="0.87" fill="#fff"/><circle cx="39.60" cy="41.56" r="0.80" fill="#fff"/><circle cx="42.00" cy="41.56" r="0.72" fill="#fff"/><circle cx="44.40" cy="41.56" r="0.64" fill="#fff"/><circle cx="46.80" cy="41.56" r="0.57" fill="#fff"/><circle cx="1.20" cy="43.94" r="0.98" fill="#fff"/><circle cx="3.60" cy="43.94" r="0.98" fill="#fff"/><circle cx="6.00" cy="43.94" r="0.98" fill="#fff"/><circle cx="8.40" cy="43.94" r="0.97" fill="#fff"/><circle cx="10.80" cy="43.94" r="0.87" fill="#fff"/><circle cx="13.20" cy="43.94" r="0.78" fill="#fff"/><circle cx="15.60" cy="43.94" r="0.69" fill="#fff"/><circle cx="18.00" cy="43.94" r="0.61" fill="#fff"/><circle cx="20.40" cy="43.94" r="0.55" fill="#fff"/><circle cx="22.80" cy="43.94" r="0.49" fill="#fff"/><circle cx="25.20" cy="43.94" r="0.44" fill="#fff"/><circle cx="27.60" cy="43.94" r="0.41" fill="#fff"/><circle cx="30.00" cy="43.94" r="0.40" fill="#fff"/><circle cx="32.40" cy="43.94" r="0.42" fill="#fff"/><circle cx="34.80" cy="43.94" r="0.47" fill="#fff"/><circle cx="37.20" cy="43.94" r="0.57" fill="#fff"/><circle cx="39.60" cy="43.94" r="0.69" fill="#fff"/><circle cx="42.00" cy="43.94" r="0.83" fill="#fff"/><circle cx="44.40" cy="43.94" r="0.95" fill="#fff"/><circle cx="46.80" cy="43.94" r="0.98" fill="#fff"/><circle cx="1.20" cy="46.31" r="0.43" fill="#fff"/><circle cx="3.60" cy="46.31" r="0.43" fill="#fff"/><circle cx="6.00" cy="46.31" r="0.44" fill="#fff"/><circle cx="8.40" cy="46.31" r="0.49" fill="#fff"/><circle cx="10.80" cy="46.31" r="0.57" fill="#fff"/><circle cx="13.20" cy="46.31" r="0.67" fill="#fff"/><circle cx="15.60" cy="46.31" r="0.80" fill="#fff"/><circle cx="18.00" cy="46.31" r="0.92" fill="#fff"/><circle cx="20.40" cy="46.31" r="0.98" fill="#fff"/><circle cx="22.80" cy="46.31" r="0.98" fill="#fff"/><circle cx="25.20" cy="46.31" r="0.98" fill="#fff"/><circle cx="27.60" cy="46.31" r="0.98" fill="#fff"/><circle cx="30.00" cy="46.31" r="0.98" fill="#fff"/><circle cx="32.40" cy="46.31" r="0.89" fill="#fff"/><circle cx="34.80" cy="46.31" r="0.78" fill="#fff"/><circle cx="37.20" cy="46.31" r="0.67" fill="#fff"/><circle cx="39.60" cy="46.31" r="0.59" fill="#fff"/><circle cx="42.00" cy="46.31" r="0.52" fill="#fff"/><circle cx="44.40" cy="46.31" r="0.47" fill="#fff"/><circle cx="46.80" cy="46.31" r="0.44" fill="#fff"/></pattern></defs>
<rect width="600" height="600" fill="#fff"/>
<path d="M308.0,133.5 L476.3,229.0 L595.0,161.3 L595.0,9.3 L523.5,9.3 L365.3,99.3 L365.3,101.5Z" fill="url(#stripes)" stroke="none"/>
<path d="M365.3,99.3 L523.5,10" fill="none" stroke="#111" stroke-width="2.4"/>
<path d="M308.5,133.5 L476.3,229.0 L476.3,277.6 L308.5,181.0Z" fill="url(#denseL)" stroke="none"/>
<path d="M476.3,229.0 L594.8,161.4 L594.8,209.8 L476.3,277.6Z" fill="url(#denseR)" stroke="none"/>
<path d="M308.5,134.7 L476.3,230.3 L594.8,162.9" fill="none" stroke="#111" stroke-width="3.2" stroke-linejoin="miter"/>
<path d="M476.3,229.0 L476.3,276.6" fill="none" stroke="#111" stroke-width="3.0"/>
<path d="M308.5,179.6 L476.3,275.90000000000003 L594.8,208.3" fill="none" stroke="#111" stroke-width="3.2" stroke-linejoin="miter"/>
<path d="M255.9,39.6 L260.9,36.6 Q304.9,50.8 364.9,97.6 L360.0,100.1 Q306.6,57.8 255.9,39.6Z" fill="#fff" stroke="#111" stroke-width="2.45" stroke-linejoin="round" stroke-linecap="round"/>
<path d="M360.0,100.1 L364.9,97.6 L364.9,149.6 L360.0,154.4Z" fill="#fff" stroke="#111" stroke-width="2.45" stroke-linejoin="round" stroke-linecap="round"/>
<path d="M301.7,182.5 L306.6,179.5 L365,213 L365,346 L359.8,345 L359.8,216.5Z" fill="#fff" stroke="#111" stroke-width="2.45" stroke-linejoin="round" stroke-linecap="round"/>
<path d="M255.9,39.6 Q306.6,57.8 360.0,100.1 L360.0,154.4  C359.7,154.2 359.2,154.2 358.2,153.4 C357.2,152.6 355.5,151.3 354.2,149.4 C352.9,147.5 351.4,144.0 350.2,142.1 C349.0,140.2 348.1,138.3 346.9,138.1 C345.7,137.9 344.2,140.1 342.9,140.8 C341.7,141.5 340.5,142.5 339.4,142.1 C338.3,141.7 337.3,140.0 336.1,138.1 C334.9,136.2 333.2,132.6 332.1,130.8 C331.0,129.0 330.5,127.6 329.4,127.4 C328.3,127.2 326.8,128.7 325.4,129.4 C323.9,130.1 321.9,131.7 320.7,131.4 C319.5,131.1 319.1,129.2 318.1,127.4 C317.1,125.6 315.9,122.7 314.7,120.8 C313.5,118.9 312.1,117.2 310.7,116.1 C309.3,115.0 306.9,114.4 306.1,114.1 Q303.6,112.9 302.4,117.6 L301.7,182.5 L359.8,216.5 L359.8,345 L255.7,290Z" fill="#fff" stroke="#111" stroke-width="2.45" stroke-linejoin="round" stroke-linecap="round"/>
<path d="M306.9,115.1 L306.6,179.5" fill="none" stroke="#111" stroke-width="2.45"/>
<path d="M308.7,133.2 L308.7,180 L365,212.3" fill="none" stroke="#111" stroke-width="3"/>
<path d="M308.7,133.4 L317.2,128.6" fill="none" stroke="#111" stroke-width="2.6" stroke-linecap="round"/>
<path d="M318.1,128.3 C318.5,129.0 319.5,132.0 320.7,132.3 C321.9,132.6 323.9,131.0 325.4,130.3 C326.8,129.6 328.3,128.1 329.4,128.3 C330.5,128.5 331.0,129.9 332.1,131.7 C333.2,133.5 334.9,137.1 336.1,139.0 C337.3,140.9 338.1,142.6 339.4,143.0 C340.7,143.4 342.7,142.4 344.1,141.7 C345.6,141.0 346.9,138.8 348.1,139.0 C349.3,139.2 350.2,141.1 351.4,143.0 C352.6,144.9 354.1,148.4 355.4,150.3 C356.7,152.2 358.4,153.5 359.4,154.3 C360.4,155.1 360.9,155.1 361.2,155.3" fill="none" stroke="#111" stroke-width="2.6" stroke-linecap="round"/>
<path d="M24.0,79.4 L26.2,80.7 M27.7,81.5 L52.8,96.0 M54.3,96.9 L56.7,98.3 M58.2,99.1 L83.5,113.7 M85.0,114.6 L87.4,115.9 M88.9,116.8 L112.5,130.4" fill="none" stroke="#111" stroke-width="2.15"/>
<path d="M222.7,193.9 L247.3,208.1 M248.8,208.9 L251.2,210.3 M252.7,211.1 L278.3,225.9 M279.8,226.8 L282.2,228.2 M283.7,229.0 L309.8,244.1 M311.3,244.9 L313.7,246.3 M315.2,247.1 L342.8,263.1 M344.3,263.9 L346.7,265.3 M348.2,266.2 L375.3,281.8 M376.8,282.6 L379.2,284.0 M380.7,284.9 L407.3,300.2 M408.8,301.1 L411.2,302.5 M412.7,303.3 L438.8,318.4 M440.3,319.2 L442.7,320.6 M444.2,321.5 L470.9,336.8 M472.4,337.7 L474.8,339.1 M476.3,339.9 L503.3,355.5 M504.8,356.4 L507.2,357.8 M508.7,358.6 L540.0,376.6" fill="none" stroke="#111" stroke-width="2.15"/>
<path d="M23.5,283.1 L25.7,284.4 M27.2,285.2 L52.3,299.6 M53.8,300.5 L56.2,301.9 M57.7,302.7 L82.3,316.8 M83.8,317.7 L86.2,319.1 M87.7,319.9 L97.0,325.2" fill="none" stroke="#111" stroke-width="2.15"/>
<path d="M433.7,514.8 L432.9,513.7 L432.2,512.6 M431.4,511.2 C431.2,510.9 430.7,510.0 430.5,509.4 C430.2,508.9 429.9,508.3 429.6,507.7 C429.4,507.1 429.1,506.5 428.9,505.9 C428.7,505.3 428.4,504.7 428.2,504.1 C428.0,503.4 427.8,502.8 427.6,502.2 C427.4,501.6 427.3,501.0 427.1,500.3 C426.9,499.7 426.8,499.1 426.6,498.4 C426.5,497.8 426.4,497.2 426.3,496.5 C426.1,495.9 426.0,495.3 425.9,494.6 C425.8,494.0 425.7,493.3 425.7,492.7 C425.6,492.1 425.5,491.4 425.4,490.8 C425.4,490.1 425.3,489.5 425.3,488.8 C425.2,488.2 425.2,487.5 425.2,486.9 C425.1,486.2 425.1,485.6 425.1,484.9 C425.1,484.3 425.1,483.3 425.1,483.0 M425.1,481.3 L425.2,480.0 L425.2,478.7 M425.3,477.0 C425.3,476.7 425.4,475.7 425.5,475.0 C425.5,474.4 425.6,473.7 425.7,473.1 C425.8,472.4 425.8,471.8 425.9,471.1 C426.0,470.5 426.1,469.8 426.2,469.2 C426.3,468.6 426.4,467.9 426.5,467.3 C426.6,466.6 426.7,466.0 426.9,465.3 C427.0,464.7 427.1,464.0 427.2,463.4 C427.4,462.8 427.5,462.1 427.7,461.5 C427.8,460.8 427.9,460.2 428.1,459.6 C428.3,458.9 428.4,458.3 428.6,457.7 C428.7,457.0 428.9,456.4 429.1,455.8 C429.3,455.1 429.4,454.5 429.6,453.9 C429.8,453.2 430.0,452.6 430.2,452.0 C430.4,451.4 430.6,450.7 430.8,450.1 C431.0,449.5 431.2,448.9 431.4,448.3 C431.6,447.6 431.9,446.7 432.0,446.4 M432.6,444.8 L433.1,443.6 L433.5,442.4 M434.2,440.8 C434.3,440.5 434.7,439.6 434.9,439.1 C435.1,438.5 435.4,437.9 435.6,437.3 C435.9,436.7 436.2,436.2 436.4,435.6 C436.7,435.0 436.9,434.4 437.2,433.9 C437.5,433.3 437.7,432.7 438.0,432.2 C438.3,431.6 438.6,431.0 438.8,430.5 C439.1,429.9 439.4,429.3 439.7,428.8 C440.0,428.2 440.3,427.7 440.6,427.1 C440.9,426.6 441.2,426.0 441.5,425.4 C441.8,424.9 442.1,424.3 442.4,423.8 C442.7,423.2 443.0,422.7 443.3,422.2 C443.6,421.6 444.0,421.1 444.3,420.5 C444.6,420.0 444.9,419.4 445.3,418.9 C445.6,418.4 445.9,417.8 446.3,417.3 C446.6,416.8 446.9,416.2 447.3,415.7 C447.6,415.2 448.0,414.7 448.3,414.1 C448.7,413.6 449.2,412.8 449.4,412.6 M450.3,411.2 L451.1,410.1 L451.8,409.1 M452.8,407.7 C453.0,407.4 453.6,406.7 454.0,406.2 C454.4,405.7 454.8,405.2 455.1,404.7 C455.5,404.2 455.9,403.7 456.3,403.2 C456.7,402.7 457.1,402.2 457.5,401.7 C457.9,401.2 458.3,400.8 458.7,400.3 C459.1,399.8 459.6,399.3 460.0,398.9 C460.4,398.4 460.8,397.9 461.2,397.4 C461.6,397.0 462.1,396.5 462.5,396.0 C462.9,395.6 463.4,395.1 463.8,394.7 C464.2,394.2 464.7,393.8 465.1,393.3 C465.6,392.9 466.0,392.4 466.4,392.0 C466.9,391.5 467.3,391.1 467.8,390.6 C468.3,390.2 468.7,389.8 469.2,389.3 C469.6,388.9 470.1,388.5 470.6,388.1 C471.0,387.6 471.5,387.2 472.0,386.8 C472.5,386.4 473.2,385.8 473.4,385.6 M474.7,384.5 L475.7,383.7 L476.8,382.9 M478.1,381.8 C478.4,381.6 479.2,381.0 479.7,380.7 C480.2,380.3 480.8,379.9 481.3,379.5 C481.8,379.1 482.4,378.8 482.9,378.4 C483.5,378.0 484.0,377.7 484.6,377.3 C485.1,377.0 485.7,376.6 486.2,376.3 C486.8,376.0 487.4,375.6 487.9,375.3 C488.5,375.0 489.1,374.7 489.7,374.3 C490.2,374.0 490.8,373.7 491.4,373.4 C492.0,373.1 492.6,372.8 493.2,372.6 C493.8,372.3 494.4,372.0 495.0,371.7 C495.6,371.5 496.2,371.2 496.8,371.0 C497.4,370.7 498.0,370.5 498.6,370.2 C499.2,370.0 499.8,369.8 500.5,369.6 C501.1,369.4 501.7,369.1 502.3,369.0 C503.0,368.8 503.6,368.6 504.2,368.4 C504.9,368.2 505.8,368.0 506.2,367.9 M507.8,367.6 L509.1,367.4 L510.4,367.2 M512.1,367.0 C512.4,366.9 513.4,366.9 514.0,366.8 C514.7,366.8 515.3,366.8 516.0,366.8 C516.7,366.8 517.3,366.8 518.0,366.8 C518.6,366.8 519.3,366.9 519.9,366.9 C520.6,367.0 521.2,367.1 521.9,367.2 C522.5,367.3 523.2,367.4 523.8,367.6 C524.5,367.7 525.1,367.9 525.7,368.0 C526.4,368.2 527.0,368.4 527.6,368.6 C528.2,368.8 528.8,369.1 529.4,369.3 C530.0,369.6 530.6,369.9 531.2,370.2 C531.8,370.5 532.4,370.8 533.0,371.1 C533.5,371.4 534.1,371.8 534.6,372.2 C535.2,372.5 535.7,372.9 536.2,373.3 C536.7,373.7 537.2,374.2 537.7,374.6 C538.2,375.0 538.7,375.5 539.1,375.9 C539.6,376.4 540.3,377.1 540.5,377.4 M541.6,378.7 L542.4,379.7 L543.1,380.8 M544.0,382.2 C544.2,382.5 544.7,383.3 545.0,383.9 C545.3,384.5 545.6,385.0 545.9,385.6 C546.2,386.2 546.4,386.8 546.7,387.4 C546.9,388.0 547.2,388.6 547.4,389.2 C547.6,389.8 547.9,390.4 548.1,391.0 C548.3,391.6 548.5,392.2 548.7,392.9 C548.8,393.5 549.0,394.1 549.2,394.7 C549.3,395.4 549.5,396.0 549.6,396.6 C549.7,397.3 549.9,397.9 550.0,398.5 C550.1,399.2 550.2,399.8 550.3,400.4 C550.4,401.1 550.5,401.7 550.6,402.4 C550.7,403.0 550.7,403.6 550.8,404.3 C550.8,404.9 550.9,405.6 550.9,406.2 C551.0,406.9 551.0,407.5 551.0,408.2 C551.1,408.8 551.1,409.4 551.1,410.1 C551.1,410.7 551.1,411.7 551.1,412.0 M551.1,413.7 L551.0,415.0 L551.0,416.3 M550.9,418.0 C550.8,418.3 550.8,419.3 550.7,419.9 C550.6,420.6 550.6,421.2 550.5,421.9 C550.4,422.5 550.3,423.1 550.3,423.8 C550.2,424.4 550.1,425.0 550.0,425.7 C549.9,426.3 549.8,426.9 549.7,427.6 C549.6,428.2 549.5,428.8 549.3,429.5 C549.2,430.1 549.1,430.7 549.0,431.3 C548.8,432.0 548.7,432.6 548.6,433.2 C548.4,433.8 548.3,434.5 548.1,435.1 C548.0,435.7 547.8,436.3 547.7,437.0 C547.5,437.6 547.3,438.2 547.2,438.8 C547.0,439.4 546.8,440.1 546.7,440.7 C546.5,441.3 546.3,441.9 546.1,442.5 C545.9,443.1 545.7,443.7 545.5,444.3 C545.3,445.0 545.1,445.6 544.9,446.2 C544.7,446.8 544.5,447.4 544.3,448.0 C544.1,448.6 543.8,449.5 543.6,449.8 M543.1,451.4 L542.6,452.6 L542.1,453.8 M541.5,455.4 C541.3,455.7 540.9,456.6 540.7,457.2 C540.4,457.8 540.2,458.4 539.9,459.0 C539.6,459.5 539.4,460.1 539.1,460.7 C538.8,461.3 538.5,461.9 538.3,462.5 C538.0,463.1 537.7,463.7 537.4,464.2 C537.1,464.8 536.8,465.4 536.5,466.0 C536.2,466.5 535.9,467.1 535.6,467.7 C535.3,468.3 535.0,468.8 534.7,469.4 C534.4,470.0 534.1,470.5 533.8,471.1 C533.4,471.7 533.1,472.2 532.8,472.8 C532.5,473.4 532.1,473.9 531.8,474.5 C531.5,475.0 531.1,475.6 530.8,476.1 C530.4,476.7 530.1,477.3 529.8,477.8 C529.4,478.3 529.1,478.9 528.7,479.4 C528.4,480.0 528.0,480.5 527.6,481.1 C527.3,481.6 526.9,482.1 526.5,482.7 C526.2,483.2 525.6,484.0 525.4,484.3 M524.4,485.7 L523.7,486.7 L522.9,487.7 M521.9,489.1 C521.7,489.4 521.1,490.1 520.6,490.6 C520.2,491.2 519.8,491.7 519.4,492.2 C519.0,492.7 518.6,493.2 518.2,493.7 C517.7,494.2 517.3,494.7 516.9,495.2 C516.5,495.7 516.0,496.2 515.6,496.7 C515.2,497.2 514.7,497.7 514.3,498.1 C513.8,498.6 513.4,499.1 512.9,499.6 C512.5,500.1 512.0,500.5 511.6,501.0 C511.1,501.5 510.7,501.9 510.2,502.4 C509.7,502.9 509.3,503.3 508.8,503.8 C508.3,504.2 507.8,504.7 507.4,505.1 C506.9,505.6 506.4,506.0 505.9,506.5 C505.4,506.9 504.9,507.3 504.5,507.8 C504.0,508.2 503.5,508.6 503.0,509.1 C502.5,509.5 501.7,510.1 501.5,510.3 M500.1,511.4 L499.1,512.2 L498.1,513.0 M496.7,514.0 C496.5,514.2 495.7,514.7 495.2,515.1 C494.6,515.5 494.1,515.8 493.6,516.2 C493.1,516.5 492.5,516.9 492.0,517.2 C491.5,517.6 490.9,517.9 490.4,518.2 C489.8,518.6 489.3,518.9 488.8,519.2 C488.2,519.5 487.6,519.8 487.1,520.2 C486.5,520.5 486.0,520.8 485.4,521.1 C484.9,521.3 484.3,521.6 483.7,521.9 C483.1,522.2 482.6,522.5 482.0,522.7 C481.4,523.0 480.8,523.2 480.3,523.5 C479.7,523.7 479.1,524.0 478.5,524.2 C477.9,524.5 477.3,524.7 476.7,524.9 C476.1,525.1 475.5,525.3 474.9,525.5 C474.3,525.7 473.7,525.9 473.1,526.1 C472.5,526.2 471.9,526.4 471.3,526.6 C470.6,526.7 469.7,526.9 469.4,527.0 M467.7,527.3 L466.5,527.5 L465.2,527.7 M463.5,527.9 C463.2,527.9 462.2,528.0 461.6,528.0 C460.9,528.0 460.3,528.0 459.7,528.0 C459.0,528.0 458.4,528.0 457.8,528.0 C457.1,527.9 456.5,527.9 455.8,527.8 C455.2,527.7 454.6,527.7 454.0,527.5 C453.3,527.4 452.7,527.3 452.1,527.2 C451.5,527.0 450.8,526.9 450.2,526.7 C449.6,526.5 449.0,526.3 448.4,526.1 C447.8,525.9 447.2,525.7 446.6,525.4 C446.1,525.2 445.5,524.9 444.9,524.6 C444.3,524.3 443.8,524.0 443.2,523.7 C442.7,523.4 442.2,523.0 441.6,522.7 C441.1,522.3 440.6,521.9 440.1,521.5 C439.6,521.1 439.1,520.7 438.6,520.3 C438.1,519.9 437.7,519.5 437.2,519.0 C436.8,518.6 436.3,518.1 435.9,517.6 C435.5,517.1 434.9,516.4 434.7,516.2 " fill="none" stroke="#111" stroke-width="2.15"/>
<path d="M407.3,238.5 L402.1,270.5 L412.5,270.5Z" fill="#111"/>
<path d="M407.3,489.5 L402.1,456 L412.5,456Z" fill="#111"/>
<path d="M407.3,270 L407.3,298.7 M407.3,301.2 L407.3,303.6 M407.3,305 L407.3,308.4 M407.3,310.8 L407.3,342.5 M407.3,381 L407.3,413.2 M407.3,414.9 L407.3,417.6 M407.3,419.3 L407.3,457" fill="none" stroke="#111" stroke-width="2.15"/>
<path d="M407.3,489.5 L265.8,566.7" fill="none" stroke="#111" stroke-width="2.15"/>
<path d="M400.8,349.2 L400.8,371.7 M415.3,349.2 L415.3,371.7 M400.8,360 L415.3,360" fill="none" stroke="#111" stroke-width="2.3"/>
<path d="M429.6,376.8 L429.6,364.2 M429.6,365.5 Q429.8,364.2 431.5,364.2 L440.3,364.2 Q442.2,364.2 442.2,366 L442.2,376.8 M435.9,364.2 L435.9,376.8" fill="none" stroke="#111" stroke-width="2.2"/>
<path d="M446.5,366.5 Q446.8,364.2 449,364.2 L455,364.2 Q457.6,364.2 457.6,366.8 L457.6,376.8 M457.6,370.3 L449.3,370.3 Q446.3,370.3 446.3,373.3 Q446.3,376.3 449.3,376.3 L454.5,376.3 Q457.6,376.3 457.6,373.5" fill="none" stroke="#111" stroke-width="2.2"/>
<path d="M462.8,364 L474,376.8 M474,364 L462.8,376.8" fill="none" stroke="#111" stroke-width="2.2"/>
<path d="M540,376.7 L515.3,403.5 L524.8,409.8Z" fill="#111"/>
<path d="M442.7,523.3 L457.9,490.2 L467.4,496.5Z" fill="#111"/>
<path d="M520.1,406.7 L500,436.7 M480.8,465.8 L462.6,493.3" fill="none" stroke="#111" stroke-width="2.15"/>
<path d="M484.4,440.8 L484.4,461.6 L491,461.6 Q498.3,461.6 498.3,454 L498.3,448.4 Q498.3,440.8 491,440.8 Z" fill="none" stroke="#111" stroke-width="2.3" stroke-linejoin="round"/>
<path d="M217.2,486.0 C217.2,488.1 216.9,495.2 217.2,498.4 C217.5,501.6 217.6,503.3 218.9,505.2 C220.2,507.1 222.8,508.3 225.2,509.6 C227.6,510.9 230.0,511.9 233.3,512.8 C236.6,513.7 241.1,514.4 245.0,514.8 C248.9,515.1 252.8,515.2 256.7,514.9 C260.6,514.6 264.4,513.8 268.3,512.8 C272.2,511.8 275.2,511.0 280.0,509.2 C284.8,507.4 292.1,504.4 296.8,501.7 C301.6,499.0 304.6,496.5 308.5,493.0 C312.4,489.5 316.1,485.5 320.2,480.9 C324.3,476.3 329.7,469.9 333.0,465.6 C336.3,461.4 337.1,459.7 340.0,455.4 C342.9,451.1 347.6,444.8 350.7,440.0 C353.8,435.2 356.2,431.3 358.7,426.7 C361.2,422.1 364.5,414.9 365.6,412.5 L340,436 L329.5,448.2 L319,459.8 L305,474.2 L293.3,482.8 L281.7,488.3 L268.3,491.1 L256.7,491.9 L245,490 L235.7,485.2 L227.5,476.5 L222.25,467.8Z" fill="#fff" stroke="none"/>
<path d="M217.2,486.0 C217.2,488.1 216.9,495.2 217.2,498.4 C217.5,501.6 217.6,503.3 218.9,505.2 C220.2,507.1 222.8,508.3 225.2,509.6 C227.6,510.9 230.0,511.9 233.3,512.8 C236.6,513.7 241.1,514.4 245.0,514.8 C248.9,515.1 252.8,515.2 256.7,514.9 C260.6,514.6 264.4,513.8 268.3,512.8 C272.2,511.8 275.2,511.0 280.0,509.2 C284.8,507.4 292.1,504.4 296.8,501.7 C301.6,499.0 304.6,496.5 308.5,493.0 C312.4,489.5 316.1,485.5 320.2,480.9 C324.3,476.3 329.7,469.9 333.0,465.6 C336.3,461.4 337.1,459.7 340.0,455.4 C342.9,451.1 347.6,444.8 350.7,440.0 C353.8,435.2 356.2,431.3 358.7,426.7 C361.2,422.1 364.5,414.9 365.6,412.5" fill="none" stroke="#111" stroke-width="2.2" stroke-linecap="round"/>
<path d="M222.2,492.0 C222.2,492.8 221.4,495.3 222.2,496.8 C223.1,498.3 224.7,499.4 227.5,501.0 C230.3,502.6 235.3,505.2 239.2,506.5 C243.1,507.8 246.9,508.6 250.8,508.9 C254.7,509.2 258.6,508.9 262.5,508.4 C266.4,507.9 271.0,506.7 274.2,505.9 C277.4,505.1 278.5,505.0 281.7,503.8 C284.9,502.6 289.4,501.0 293.3,498.9 C297.2,496.8 301.1,494.1 305.0,491.0 C308.9,487.9 312.4,484.8 316.7,480.2 C321.0,475.6 326.8,468.2 330.7,463.5 C334.6,458.8 337.1,455.6 340.0,451.7 C342.9,447.8 345.3,443.9 348.0,440.0 C350.7,436.1 353.1,431.9 356.0,428.0 C358.9,424.1 363.8,418.4 365.3,416.5" fill="none" stroke="#111" stroke-width="2.2" stroke-linecap="round"/>
<path d="M222.2,467.8 C223.1,469.2 225.3,473.6 227.5,476.5 C229.7,479.4 232.8,482.9 235.7,485.2 C238.6,487.4 241.5,488.9 245.0,490.0 C248.5,491.1 252.8,491.7 256.7,491.9 C260.6,492.1 264.1,491.7 268.3,491.1 C272.5,490.5 277.5,489.7 281.7,488.3 C285.9,486.9 289.4,485.2 293.3,482.8 C297.2,480.4 300.7,478.0 305.0,474.2 C309.3,470.4 314.9,464.1 319.0,459.8 C323.1,455.5 326.0,452.2 329.5,448.2 C333.0,444.2 338.2,438.0 340.0,436.0" fill="none" stroke="#111" stroke-width="2.2" stroke-linecap="round"/>
<path d="M365.6,412.5 L365.3,416.5" fill="none" stroke="#111" stroke-width="2.2" stroke-linecap="round"/>
<path d="M226,425 L226,449.5 Q238.3,462 251.2,449.5 L251.2,425Z" fill="#fff" stroke="#111" stroke-width="2.2"/>
<path d="M226.5,433.5 Q238.5,439.0 250.8,435.5" fill="none" stroke="#111" stroke-width="1.5"/>
<path d="M226.5,438.2 Q238.5,443.7 250.8,440.2" fill="none" stroke="#111" stroke-width="1.5"/>
<path d="M226.5,442.8 Q238.5,448.3 250.8,444.8" fill="none" stroke="#111" stroke-width="1.5"/>
<path d="M226.5,447 Q238.5,452.5 250.8,449" fill="none" stroke="#111" stroke-width="1.5"/>
<clipPath id="rimLow"><path d="M200,470 L200,380 L340,380 L372,412 L372,470Z"/></clipPath>
<path d="M391.9,346.5 L391.9,367  C390.4,370.3 385.8,381.0 382.7,386.6 C379.6,392.2 376.3,396.2 373.0,400.7 C369.7,405.1 366.0,409.2 362.7,413.3 C359.4,417.4 357.1,421.1 353.3,425.3 C349.5,429.5 344.4,434.7 340.0,438.7 C335.6,442.7 331.1,446.5 326.7,449.3 C322.2,452.1 317.8,453.7 313.3,455.3 C308.9,456.9 304.7,457.8 300.0,458.7 C295.3,459.6 288.3,460.7 285.0,461.0 C281.7,461.3 282.8,460.9 280.3,460.4 C277.8,459.9 272.9,459.1 269.8,458.0 C266.7,456.9 264.2,455.8 261.7,454.0 C259.2,452.2 255.9,448.2 254.7,447.0 L251.2,443.5 L224.3,428.3 L222,428 L222,394 L266.3,420.2  C267.1,421.2 269.1,424.4 271.0,426.0 C272.9,427.6 275.7,428.9 278.0,430.0 C280.3,431.1 281.3,432.0 285.0,432.4 C288.7,432.8 295.3,432.7 300.0,432.3 C304.7,431.9 308.9,431.3 313.3,430.0 C317.8,428.7 322.2,426.9 326.7,424.5 C331.1,422.1 335.9,419.4 340.0,415.5 C344.1,411.6 348.2,404.9 351.3,401.0 C354.4,397.1 356.3,394.9 358.8,392.0 C361.3,389.1 364.0,386.6 366.4,383.3 C368.8,380.1 371.0,376.1 373.0,372.5 C375.0,368.9 377.1,365.0 378.3,361.7 C379.6,358.4 380.1,354.0 380.5,352.5 Z" fill="url(#rim)" stroke="#111" stroke-width="3" stroke-linejoin="round"/>
<path d="M391.9,346.5 L391.9,367  C390.4,370.3 385.8,381.0 382.7,386.6 C379.6,392.2 376.3,396.2 373.0,400.7 C369.7,405.1 366.0,409.2 362.7,413.3 C359.4,417.4 357.1,421.1 353.3,425.3 C349.5,429.5 344.4,434.7 340.0,438.7 C335.6,442.7 331.1,446.5 326.7,449.3 C322.2,452.1 317.8,453.7 313.3,455.3 C308.9,456.9 304.7,457.8 300.0,458.7 C295.3,459.6 288.3,460.7 285.0,461.0 C281.7,461.3 282.8,460.9 280.3,460.4 C277.8,459.9 272.9,459.1 269.8,458.0 C266.7,456.9 264.2,455.8 261.7,454.0 C259.2,452.2 255.9,448.2 254.7,447.0 L251.2,443.5 L224.3,428.3 L222,428 L222,394 L266.3,420.2  C267.1,421.2 269.1,424.4 271.0,426.0 C272.9,427.6 275.7,428.9 278.0,430.0 C280.3,431.1 281.3,432.0 285.0,432.4 C288.7,432.8 295.3,432.7 300.0,432.3 C304.7,431.9 308.9,431.3 313.3,430.0 C317.8,428.7 322.2,426.9 326.7,424.5 C331.1,422.1 335.9,419.4 340.0,415.5 C344.1,411.6 348.2,404.9 351.3,401.0 C354.4,397.1 356.3,394.9 358.8,392.0 C361.3,389.1 364.0,386.6 366.4,383.3 C368.8,380.1 371.0,376.1 373.0,372.5 C375.0,368.9 377.1,365.0 378.3,361.7 C379.6,358.4 380.1,354.0 380.5,352.5 Z" fill="#111" stroke="none" clip-path="url(#rimLow)"/>
<path d="M265.1,428.6 C265.6,429.1 267.1,430.6 268.1,431.5 C269.1,432.4 270.0,433.5 271.1,434.2 C272.2,435.0 273.6,435.4 274.8,436.0 C276.1,436.6 277.3,437.2 278.6,437.7 C279.9,438.1 281.2,438.5 282.5,438.8 C283.9,439.1 285.2,439.4 286.6,439.5 C287.9,439.5 289.3,439.3 290.7,439.3 C292.1,439.2 293.5,439.1 294.8,439.1 C296.2,439.0 297.6,439.0 299.0,438.9 C300.4,438.7 301.7,438.5 303.1,438.3 C304.4,438.0 305.8,437.7 307.1,437.5 C308.5,437.2 309.9,437.0 311.2,436.7 C312.6,436.3 313.9,436.0 315.2,435.5 C316.5,435.1 317.7,434.4 319.0,433.9 C320.3,433.4 321.6,432.9 322.8,432.3 C324.1,431.7 325.3,431.2 326.5,430.5 C327.7,429.8 328.9,429.0 330.0,428.3 C331.2,427.5 332.3,426.7 333.4,425.9 C334.5,425.1 335.7,424.3 336.8,423.5 C337.9,422.7 339.1,421.9 340.1,421.0 C341.1,420.1 342.0,419.0 342.9,418.0 C343.8,417.0 344.7,415.9 345.6,414.8 C346.4,413.7 347.3,412.7 348.2,411.6 C349.1,410.5 349.9,409.5 350.8,408.4 C351.7,407.3 352.5,406.2 353.4,405.1 C354.2,404.0 355.1,403.0 356.0,401.9 C356.9,400.8 357.7,399.8 358.6,398.7 C359.5,397.6 360.4,396.6 361.3,395.5 C362.2,394.5 363.1,393.4 364.0,392.4 C364.9,391.3 366.3,389.7 366.7,389.2" fill="none" stroke="#fff" stroke-width="1.2" stroke-dasharray="2.2 1.1" clip-path="url(#rimLow)"/>
<path d="M264.4,434.4 C264.9,434.8 266.5,436.2 267.5,437.1 C268.6,437.9 269.6,438.9 270.8,439.6 C272.0,440.3 273.3,440.7 274.6,441.2 C275.9,441.7 277.2,442.3 278.5,442.7 C279.9,443.1 281.2,443.5 282.6,443.8 C284.0,444.0 285.3,444.2 286.7,444.3 C288.1,444.3 289.5,444.1 290.9,444.0 C292.3,443.9 293.7,443.8 295.1,443.7 C296.5,443.6 297.9,443.5 299.3,443.3 C300.7,443.2 302.1,442.9 303.5,442.6 C304.8,442.4 306.2,442.0 307.6,441.8 C309.0,441.5 310.4,441.2 311.7,440.9 C313.1,440.5 314.4,440.1 315.7,439.6 C317.0,439.1 318.3,438.5 319.6,437.9 C320.9,437.4 322.2,436.9 323.5,436.3 C324.7,435.7 326.0,435.0 327.2,434.3 C328.4,433.6 329.5,432.7 330.7,431.9 C331.8,431.1 332.9,430.3 334.1,429.4 C335.2,428.6 336.4,427.8 337.5,427.0 C338.6,426.1 339.7,425.3 340.7,424.3 C341.8,423.4 342.7,422.3 343.6,421.3 C344.6,420.2 345.5,419.2 346.4,418.1 C347.3,417.0 348.3,416.0 349.2,414.9 C350.1,413.8 350.9,412.7 351.8,411.6 C352.7,410.5 353.5,409.4 354.4,408.3 C355.3,407.2 356.2,406.1 357.1,405.0 C358.0,403.9 358.9,402.8 359.8,401.8 C360.7,400.7 361.6,399.6 362.5,398.5 C363.4,397.4 364.3,396.4 365.2,395.3 C366.1,394.2 367.5,392.6 367.9,392.1" fill="none" stroke="#fff" stroke-width="1.2" stroke-dasharray="2.2 1.1" clip-path="url(#rimLow)"/>
<path d="M263.6,440.1 C264.2,440.6 265.8,441.8 267.0,442.6 C268.1,443.4 269.2,444.3 270.5,445.0 C271.7,445.6 273.1,445.9 274.5,446.4 C275.8,446.9 277.1,447.4 278.5,447.8 C279.9,448.2 281.3,448.5 282.7,448.8 C284.1,449.0 285.5,449.1 286.9,449.1 C288.3,449.1 289.7,448.8 291.1,448.7 C292.6,448.5 294.0,448.4 295.4,448.2 C296.8,448.1 298.3,448.0 299.7,447.8 C301.1,447.6 302.5,447.3 303.9,447.0 C305.3,446.7 306.7,446.4 308.1,446.0 C309.4,445.7 310.9,445.5 312.2,445.1 C313.6,444.7 314.9,444.2 316.2,443.6 C317.6,443.1 318.9,442.5 320.2,441.9 C321.5,441.3 322.9,440.8 324.1,440.2 C325.4,439.6 326.6,438.8 327.8,438.1 C329.0,437.3 330.1,436.4 331.3,435.6 C332.4,434.7 333.6,433.9 334.7,433.0 C335.9,432.2 337.1,431.3 338.2,430.4 C339.3,429.5 340.4,428.6 341.4,427.7 C342.4,426.7 343.4,425.6 344.4,424.6 C345.3,423.5 346.3,422.5 347.3,421.4 C348.2,420.3 349.2,419.3 350.1,418.2 C351.1,417.1 351.9,416.0 352.8,414.9 C353.7,413.8 354.6,412.6 355.5,411.5 C356.4,410.4 357.3,409.3 358.2,408.2 C359.1,407.0 360.0,405.9 360.9,404.8 C361.8,403.7 362.7,402.6 363.6,401.5 C364.5,400.4 365.5,399.3 366.4,398.2 C367.3,397.1 368.7,395.5 369.1,394.9" fill="none" stroke="#fff" stroke-width="1.2" stroke-dasharray="2.2 1.1" clip-path="url(#rimLow)"/>
<path d="M262.8,445.9 C263.4,446.3 265.2,447.4 266.5,448.1 C267.7,448.9 268.8,449.8 270.2,450.4 C271.5,450.9 272.9,451.2 274.3,451.6 C275.7,452.0 277.1,452.5 278.5,452.8 C279.9,453.2 281.3,453.5 282.7,453.7 C284.2,453.9 285.6,453.9 287.0,453.9 C288.5,453.8 289.9,453.5 291.4,453.4 C292.8,453.2 294.2,453.0 295.7,452.8 C297.1,452.6 298.6,452.5 300.0,452.3 C301.4,452.0 302.8,451.7 304.3,451.3 C305.7,451.0 307.1,450.7 308.5,450.3 C309.9,450.0 311.4,449.7 312.7,449.3 C314.1,448.8 315.4,448.2 316.8,447.7 C318.1,447.1 319.5,446.5 320.8,445.9 C322.1,445.3 323.5,444.8 324.8,444.2 C326.1,443.5 327.3,442.7 328.4,441.9 C329.6,441.0 330.8,440.1 331.9,439.2 C333.1,438.4 334.2,437.5 335.4,436.6 C336.5,435.7 337.7,434.9 338.9,433.9 C340.0,433.0 341.0,432.0 342.1,431.0 C343.1,430.0 344.1,428.9 345.1,427.9 C346.1,426.8 347.1,425.7 348.1,424.7 C349.1,423.6 350.1,422.6 351.1,421.5 C352.0,420.4 352.9,419.3 353.9,418.1 C354.8,417.0 355.7,415.9 356.6,414.7 C357.5,413.6 358.4,412.4 359.3,411.3 C360.2,410.2 361.1,409.0 362.0,407.9 C362.9,406.8 363.9,405.6 364.8,404.5 C365.7,403.4 366.6,402.3 367.6,401.2 C368.5,400.0 369.9,398.3 370.4,397.8" fill="none" stroke="#fff" stroke-width="1.2" stroke-dasharray="2.2 1.1" clip-path="url(#rimLow)"/>
<clipPath id="rimClip"><path d="M391.9,346.5 L391.9,367  C390.4,370.3 385.8,381.0 382.7,386.6 C379.6,392.2 376.3,396.2 373.0,400.7 C369.7,405.1 366.0,409.2 362.7,413.3 C359.4,417.4 357.1,421.1 353.3,425.3 C349.5,429.5 344.4,434.7 340.0,438.7 C335.6,442.7 331.1,446.5 326.7,449.3 C322.2,452.1 317.8,453.7 313.3,455.3 C308.9,456.9 304.7,457.8 300.0,458.7 C295.3,459.6 288.3,460.7 285.0,461.0 C281.7,461.3 282.8,460.9 280.3,460.4 C277.8,459.9 272.9,459.1 269.8,458.0 C266.7,456.9 264.2,455.8 261.7,454.0 C259.2,452.2 255.9,448.2 254.7,447.0 L251.2,443.5 L224.3,428.3 L222,428 L222,394 L266.3,420.2  C267.1,421.2 269.1,424.4 271.0,426.0 C272.9,427.6 275.7,428.9 278.0,430.0 C280.3,431.1 281.3,432.0 285.0,432.4 C288.7,432.8 295.3,432.7 300.0,432.3 C304.7,431.9 308.9,431.3 313.3,430.0 C317.8,428.7 322.2,426.9 326.7,424.5 C331.1,422.1 335.9,419.4 340.0,415.5 C344.1,411.6 348.2,404.9 351.3,401.0 C354.4,397.1 356.3,394.9 358.8,392.0 C361.3,389.1 364.0,386.6 366.4,383.3 C368.8,380.1 371.0,376.1 373.0,372.5 C375.0,368.9 377.1,365.0 378.3,361.7 C379.6,358.4 380.1,354.0 380.5,352.5 Z"/></clipPath>
<path d="M284.0,432 L284.0,462" fill="none" stroke="#fff" stroke-width="0.55" opacity="0.55" clip-path="url(#rimClip)"/>
<path d="M285.8,432 L285.8,462" fill="none" stroke="#fff" stroke-width="0.55" opacity="0.55" clip-path="url(#rimClip)"/>
<path d="M287.6,432 L287.6,462" fill="none" stroke="#fff" stroke-width="0.55" opacity="0.55" clip-path="url(#rimClip)"/>
<path d="M289.4,432 L289.4,462" fill="none" stroke="#fff" stroke-width="0.55" opacity="0.55" clip-path="url(#rimClip)"/>
<path d="M291.2,432 L291.2,462" fill="none" stroke="#fff" stroke-width="0.55" opacity="0.55" clip-path="url(#rimClip)"/>
<path d="M293.0,432 L293.0,462" fill="none" stroke="#fff" stroke-width="0.55" opacity="0.55" clip-path="url(#rimClip)"/>
<path d="M294.8,432 L294.8,462" fill="none" stroke="#fff" stroke-width="0.55" opacity="0.55" clip-path="url(#rimClip)"/>
<path d="M296.6,432 L296.6,462" fill="none" stroke="#fff" stroke-width="0.55" opacity="0.55" clip-path="url(#rimClip)"/>
<path d="M298.4,432 L298.4,462" fill="none" stroke="#fff" stroke-width="0.55" opacity="0.55" clip-path="url(#rimClip)"/>
<path d="M300.2,432 L300.2,462" fill="none" stroke="#fff" stroke-width="0.55" opacity="0.55" clip-path="url(#rimClip)"/>
<path d="M302.0,432 L302.0,462" fill="none" stroke="#fff" stroke-width="0.55" opacity="0.55" clip-path="url(#rimClip)"/>
<path d="M303.8,432 L303.8,462" fill="none" stroke="#fff" stroke-width="0.55" opacity="0.55" clip-path="url(#rimClip)"/>
<path d="M305.6,432 L305.6,462" fill="none" stroke="#fff" stroke-width="0.55" opacity="0.55" clip-path="url(#rimClip)"/>
<path d="M307.4,432 L307.4,462" fill="none" stroke="#fff" stroke-width="0.55" opacity="0.55" clip-path="url(#rimClip)"/>
<path d="M309.2,432 L309.2,462" fill="none" stroke="#fff" stroke-width="0.55" opacity="0.55" clip-path="url(#rimClip)"/>
<path d="M311.0,432 L311.0,462" fill="none" stroke="#fff" stroke-width="0.55" opacity="0.55" clip-path="url(#rimClip)"/>
<path d="M215,256.6 L380.5,353.3  C380.1,354.0 379.6,358.4 378.3,361.7 C377.1,365.0 375.0,368.9 373.0,372.5 C371.0,376.1 368.8,380.1 366.4,383.3 C364.0,386.6 361.3,389.1 358.8,392.0 C356.3,394.9 354.4,397.1 351.3,401.0 C348.2,404.9 344.1,411.6 340.0,415.5 C335.9,419.4 331.1,422.1 326.7,424.5 C322.2,426.9 317.8,428.7 313.3,430.0 C308.9,431.3 304.7,431.9 300.0,432.3 C295.3,432.7 288.7,432.8 285.0,432.4 C281.3,432.0 280.3,431.1 278.0,430.0 C275.7,428.9 272.9,427.6 271.0,426.0 C269.1,424.4 267.1,421.2 266.3,420.2 L223,394 L200,383 L200,283.6 Q210,268 215,256Z" fill="#fff" stroke="none"/>
<clipPath id="faceClip"><path d="M215,256.6 L380.5,353.3  C380.1,354.0 379.6,358.4 378.3,361.7 C377.1,365.0 375.0,368.9 373.0,372.5 C371.0,376.1 368.8,380.1 366.4,383.3 C364.0,386.6 361.3,389.1 358.8,392.0 C356.3,394.9 354.4,397.1 351.3,401.0 C348.2,404.9 344.1,411.6 340.0,415.5 C335.9,419.4 331.1,422.1 326.7,424.5 C322.2,426.9 317.8,428.7 313.3,430.0 C308.9,431.3 304.7,431.9 300.0,432.3 C295.3,432.7 288.7,432.8 285.0,432.4 C281.3,432.0 280.3,431.1 278.0,430.0 C275.7,428.9 272.9,427.6 271.0,426.0 C269.1,424.4 267.1,421.2 266.3,420.2 L223,394 L200,383 L200,283.6 Q210,268 215,256Z"/></clipPath>
<defs><rect id="md" x="-2.45" y="-1.15" width="4.9" height="2.3" rx="1.12" transform="rotate(27)" fill="#0a0a0a"/></defs>
<g clip-path="url(#faceClip)"><use href="#md" x="200.4" y="252.9"/><use href="#md" x="200.4" y="258.6"/><use href="#md" x="200.4" y="264.2"/><use href="#md" x="200.4" y="269.9"/><use href="#md" x="200.4" y="275.7"/><use href="#md" x="200.4" y="281.4"/><use href="#md" x="200.4" y="287.1"/><use href="#md" x="200.4" y="292.8"/><use href="#md" x="200.4" y="298.4"/><use href="#md" x="200.4" y="304.2"/><use href="#md" x="200.4" y="309.9"/><use href="#md" x="200.4" y="315.6"/><use href="#md" x="200.4" y="321.2"/><use href="#md" x="200.4" y="326.9"/><use href="#md" x="200.4" y="332.7"/><use href="#md" x="200.4" y="338.4"/><use href="#md" x="200.4" y="344.1"/><use href="#md" x="200.4" y="349.8"/><use href="#md" x="200.4" y="355.5"/><use href="#md" x="200.4" y="361.2"/><use href="#md" x="200.4" y="366.9"/><use href="#md" x="200.4" y="372.6"/><use href="#md" x="200.4" y="378.2"/><use href="#md" x="200.4" y="384.0"/><use href="#md" x="200.4" y="389.7"/><use href="#md" x="200.4" y="395.4"/><use href="#md" x="200.4" y="401.1"/><use href="#md" x="200.4" y="406.8"/><use href="#md" x="200.4" y="412.5"/><use href="#md" x="200.4" y="418.1"/><use href="#md" x="200.4" y="423.9"/><use href="#md" x="200.4" y="429.6"/><use href="#md" x="200.4" y="435.2"/><use href="#md" x="206.4" y="250.5"/><use href="#md" x="206.4" y="256.2"/><use href="#md" x="206.4" y="261.9"/><use href="#md" x="206.4" y="267.6"/><use href="#md" x="206.4" y="273.2"/><use href="#md" x="206.4" y="279.0"/><use href="#md" x="206.4" y="284.7"/><use href="#md" x="206.4" y="290.4"/><use href="#md" x="206.4" y="296.1"/><use href="#md" x="206.4" y="301.8"/><use href="#md" x="206.4" y="307.5"/><use href="#md" x="206.4" y="313.2"/><use href="#md" x="206.4" y="318.9"/><use href="#md" x="206.4" y="324.6"/><use href="#md" x="206.4" y="330.2"/><use href="#md" x="206.4" y="336.0"/><use href="#md" x="206.4" y="341.7"/><use href="#md" x="206.4" y="347.4"/><use href="#md" x="206.4" y="353.1"/><use href="#md" x="206.4" y="358.8"/><use href="#md" x="206.4" y="364.5"/><use href="#md" x="206.4" y="370.2"/><use href="#md" x="206.4" y="375.9"/><use href="#md" x="206.4" y="381.6"/><use href="#md" x="206.4" y="387.2"/><use href="#md" x="206.4" y="393.0"/><use href="#md" x="206.4" y="398.7"/><use href="#md" x="206.4" y="404.4"/><use href="#md" x="206.4" y="410.1"/><use href="#md" x="206.4" y="415.8"/><use href="#md" x="206.4" y="421.5"/><use href="#md" x="206.4" y="427.2"/><use href="#md" x="206.4" y="432.9"/><use href="#md" x="206.4" y="438.6"/><use href="#md" x="212.3" y="253.8"/><use href="#md" x="212.3" y="259.5"/><use href="#md" x="212.3" y="265.2"/><use href="#md" x="212.3" y="270.9"/><use href="#md" x="212.3" y="276.6"/><use href="#md" x="212.3" y="282.3"/><use href="#md" x="212.3" y="288.0"/><use href="#md" x="212.3" y="293.7"/><use href="#md" x="212.3" y="299.4"/><use href="#md" x="212.3" y="305.1"/><use href="#md" x="212.3" y="310.8"/><use href="#md" x="212.3" y="316.5"/><use href="#md" x="212.3" y="322.2"/><use href="#md" x="212.3" y="327.9"/><use href="#md" x="212.3" y="333.6"/><use href="#md" x="212.3" y="339.3"/><use href="#md" x="212.3" y="345.0"/><use href="#md" x="212.3" y="350.7"/><use href="#md" x="212.3" y="356.4"/><use href="#md" x="212.3" y="362.1"/><use href="#md" x="212.3" y="367.8"/><use href="#md" x="212.3" y="373.5"/><use href="#md" x="212.3" y="379.2"/><use href="#md" x="212.3" y="384.9"/><use href="#md" x="212.3" y="390.6"/><use href="#md" x="212.3" y="396.3"/><use href="#md" x="212.3" y="402.0"/><use href="#md" x="212.3" y="407.7"/><use href="#md" x="212.3" y="413.4"/><use href="#md" x="212.3" y="419.1"/><use href="#md" x="212.3" y="424.8"/><use href="#md" x="212.3" y="430.5"/><use href="#md" x="212.3" y="436.2"/><use href="#md" x="218.2" y="251.4"/><use href="#md" x="218.2" y="257.1"/><use href="#md" x="218.2" y="262.8"/><use href="#md" x="218.2" y="268.5"/><use href="#md" x="218.2" y="274.2"/><use href="#md" x="218.2" y="279.9"/><use href="#md" x="218.2" y="285.6"/><use href="#md" x="218.2" y="291.3"/><use href="#md" x="218.2" y="297.0"/><use href="#md" x="218.2" y="302.7"/><use href="#md" x="218.2" y="308.4"/><use href="#md" x="218.2" y="314.1"/><use href="#md" x="218.2" y="319.8"/><use href="#md" x="218.2" y="325.5"/><use href="#md" x="218.2" y="331.2"/><use href="#md" x="218.2" y="336.9"/><use href="#md" x="218.2" y="342.6"/><use href="#md" x="218.2" y="348.3"/><use href="#md" x="218.2" y="354.0"/><use href="#md" x="218.2" y="359.7"/><use href="#md" x="218.2" y="365.4"/><use href="#md" x="218.2" y="371.1"/><use href="#md" x="218.2" y="376.8"/><use href="#md" x="218.2" y="382.5"/><use href="#md" x="218.2" y="388.2"/><use href="#md" x="218.2" y="393.9"/><use href="#md" x="218.2" y="399.6"/><use href="#md" x="218.2" y="405.3"/><use href="#md" x="218.2" y="411.0"/><use href="#md" x="218.2" y="416.7"/><use href="#md" x="218.2" y="422.4"/><use href="#md" x="218.2" y="428.1"/><use href="#md" x="218.2" y="433.8"/><use href="#md" x="218.2" y="439.5"/><use href="#md" x="224.1" y="254.7"/><use href="#md" x="224.1" y="260.4"/><use href="#md" x="224.1" y="266.1"/><use href="#md" x="224.1" y="271.8"/><use href="#md" x="224.1" y="277.4"/><use href="#md" x="224.1" y="283.1"/><use href="#md" x="224.1" y="288.9"/><use href="#md" x="224.1" y="294.6"/><use href="#md" x="224.1" y="300.2"/><use href="#md" x="224.1" y="305.9"/><use href="#md" x="224.1" y="311.6"/><use href="#md" x="224.1" y="317.4"/><use href="#md" x="224.1" y="323.1"/><use href="#md" x="224.1" y="328.8"/><use href="#md" x="224.1" y="334.4"/><use href="#md" x="224.1" y="340.1"/><use href="#md" x="224.1" y="345.9"/><use href="#md" x="224.1" y="351.6"/><use href="#md" x="224.1" y="357.2"/><use href="#md" x="224.1" y="362.9"/><use href="#md" x="224.1" y="368.6"/><use href="#md" x="224.1" y="374.4"/><use href="#md" x="224.1" y="380.1"/><use href="#md" x="224.1" y="385.8"/><use href="#md" x="224.1" y="391.4"/><use href="#md" x="224.1" y="397.1"/><use href="#md" x="224.1" y="402.9"/><use href="#md" x="224.1" y="408.6"/><use href="#md" x="224.1" y="414.2"/><use href="#md" x="224.1" y="419.9"/><use href="#md" x="224.1" y="425.6"/><use href="#md" x="224.1" y="431.4"/><use href="#md" x="224.1" y="437.1"/><use href="#md" x="230.1" y="252.2"/><use href="#md" x="230.1" y="257.9"/><use href="#md" x="230.1" y="263.7"/><use href="#md" x="230.1" y="269.4"/><use href="#md" x="230.1" y="275.1"/><use href="#md" x="230.1" y="280.8"/><use href="#md" x="230.1" y="286.4"/><use href="#md" x="230.1" y="292.2"/><use href="#md" x="230.1" y="297.9"/><use href="#md" x="230.1" y="303.6"/><use href="#md" x="230.1" y="309.2"/><use href="#md" x="230.1" y="314.9"/><use href="#md" x="230.1" y="320.7"/><use href="#md" x="230.1" y="326.4"/><use href="#md" x="230.1" y="332.1"/><use href="#md" x="230.1" y="337.8"/><use href="#md" x="230.1" y="343.4"/><use href="#md" x="230.1" y="349.2"/><use href="#md" x="230.1" y="354.9"/><use href="#md" x="230.1" y="360.6"/><use href="#md" x="230.1" y="366.2"/><use href="#md" x="230.1" y="372.0"/><use href="#md" x="230.1" y="377.7"/><use href="#md" x="230.1" y="383.4"/><use href="#md" x="230.1" y="389.1"/><use href="#md" x="230.1" y="394.8"/><use href="#md" x="230.1" y="400.5"/><use href="#md" x="230.1" y="406.2"/><use href="#md" x="230.1" y="411.9"/><use href="#md" x="230.1" y="417.6"/><use href="#md" x="230.1" y="423.2"/><use href="#md" x="230.1" y="429.0"/><use href="#md" x="230.1" y="434.6"/><use href="#md" x="236.0" y="255.6"/><use href="#md" x="236.0" y="261.2"/><use href="#md" x="236.0" y="267.0"/><use href="#md" x="236.0" y="272.7"/><use href="#md" x="236.0" y="278.4"/><use href="#md" x="236.0" y="284.1"/><use href="#md" x="236.0" y="289.8"/><use href="#md" x="236.0" y="295.5"/><use href="#md" x="236.0" y="301.2"/><use href="#md" x="236.0" y="306.9"/><use href="#md" x="236.0" y="312.6"/><use href="#md" x="236.0" y="318.2"/><use href="#md" x="236.0" y="324.0"/><use href="#md" x="236.0" y="329.7"/><use href="#md" x="236.0" y="335.4"/><use href="#md" x="236.0" y="341.1"/><use href="#md" x="236.0" y="346.8"/><use href="#md" x="236.0" y="352.5"/><use href="#md" x="236.0" y="358.2"/><use href="#md" x="236.0" y="363.9"/><use href="#md" x="236.0" y="369.6"/><use href="#md" x="236.0" y="375.2"/><use href="#md" x="236.0" y="381.0"/><use href="#md" x="236.0" y="386.7"/><use href="#md" x="236.0" y="392.4"/><use href="#md" x="236.0" y="398.1"/><use href="#md" x="236.0" y="403.8"/><use href="#md" x="236.0" y="409.5"/><use href="#md" x="236.0" y="415.2"/><use href="#md" x="236.0" y="420.9"/><use href="#md" x="236.0" y="426.6"/><use href="#md" x="236.0" y="432.2"/><use href="#md" x="236.0" y="438.0"/><use href="#md" x="241.9" y="253.2"/><use href="#md" x="241.9" y="258.9"/><use href="#md" x="241.9" y="264.6"/><use href="#md" x="241.9" y="270.3"/><use href="#md" x="241.9" y="276.0"/><use href="#md" x="241.9" y="281.7"/><use href="#md" x="241.9" y="287.4"/><use href="#md" x="241.9" y="293.1"/><use href="#md" x="241.9" y="298.8"/><use href="#md" x="241.9" y="304.5"/><use href="#md" x="241.9" y="310.2"/><use href="#md" x="241.9" y="315.9"/><use href="#md" x="241.9" y="321.6"/><use href="#md" x="241.9" y="327.3"/><use href="#md" x="241.9" y="333.0"/><use href="#md" x="241.9" y="338.7"/><use href="#md" x="241.9" y="344.4"/><use href="#md" x="241.9" y="350.1"/><use href="#md" x="241.9" y="355.8"/><use href="#md" x="241.9" y="361.5"/><use href="#md" x="241.9" y="367.2"/><use href="#md" x="241.9" y="372.9"/><use href="#md" x="241.9" y="378.6"/><use href="#md" x="241.9" y="384.3"/><use href="#md" x="241.9" y="390.0"/><use href="#md" x="241.9" y="395.7"/><use href="#md" x="241.9" y="401.4"/><use href="#md" x="241.9" y="407.1"/><use href="#md" x="241.9" y="412.8"/><use href="#md" x="241.9" y="418.5"/><use href="#md" x="241.9" y="424.2"/><use href="#md" x="241.9" y="429.9"/><use href="#md" x="241.9" y="435.6"/><use href="#md" x="247.9" y="250.8"/><use href="#md" x="247.9" y="256.5"/><use href="#md" x="247.9" y="262.2"/><use href="#md" x="247.9" y="267.9"/><use href="#md" x="247.9" y="273.6"/><use href="#md" x="247.9" y="279.3"/><use href="#md" x="247.9" y="285.0"/><use href="#md" x="247.9" y="290.7"/><use href="#md" x="247.9" y="296.4"/><use href="#md" x="247.9" y="302.1"/><use href="#md" x="247.9" y="307.8"/><use href="#md" x="247.9" y="313.5"/><use href="#md" x="247.9" y="319.2"/><use href="#md" x="247.9" y="324.9"/><use href="#md" x="247.9" y="330.6"/><use href="#md" x="247.9" y="336.3"/><use href="#md" x="247.9" y="342.0"/><use href="#md" x="247.9" y="347.7"/><use href="#md" x="247.9" y="353.4"/><use href="#md" x="247.9" y="359.1"/><use href="#md" x="247.9" y="364.8"/><use href="#md" x="247.9" y="370.5"/><use href="#md" x="247.9" y="376.2"/><use href="#md" x="247.9" y="381.9"/><use href="#md" x="247.9" y="387.6"/><use href="#md" x="247.9" y="393.3"/><use href="#md" x="247.9" y="399.0"/><use href="#md" x="247.9" y="404.7"/><use href="#md" x="247.9" y="410.4"/><use href="#md" x="247.9" y="416.1"/><use href="#md" x="247.9" y="421.8"/><use href="#md" x="247.9" y="427.5"/><use href="#md" x="247.9" y="433.2"/><use href="#md" x="247.9" y="438.9"/><use href="#md" x="253.8" y="254.1"/><use href="#md" x="253.8" y="259.8"/><use href="#md" x="253.8" y="265.4"/><use href="#md" x="253.8" y="271.1"/><use href="#md" x="253.8" y="276.9"/><use href="#md" x="253.8" y="282.6"/><use href="#md" x="253.8" y="288.2"/><use href="#md" x="253.8" y="293.9"/><use href="#md" x="253.8" y="299.6"/><use href="#md" x="253.8" y="305.4"/><use href="#md" x="253.8" y="311.1"/><use href="#md" x="253.8" y="316.8"/><use href="#md" x="253.8" y="322.4"/><use href="#md" x="253.8" y="328.1"/><use href="#md" x="253.8" y="333.9"/><use href="#md" x="253.8" y="339.6"/><use href="#md" x="253.8" y="345.2"/><use href="#md" x="253.8" y="350.9"/><use href="#md" x="253.8" y="356.6"/><use href="#md" x="253.8" y="362.4"/><use href="#md" x="253.8" y="368.1"/><use href="#md" x="253.8" y="373.8"/><use href="#md" x="253.8" y="379.4"/><use href="#md" x="253.8" y="385.1"/><use href="#md" x="253.8" y="390.9"/><use href="#md" x="253.8" y="396.6"/><use href="#md" x="253.8" y="402.2"/><use href="#md" x="253.8" y="407.9"/><use href="#md" x="253.8" y="413.6"/><use href="#md" x="253.8" y="419.4"/><use href="#md" x="253.8" y="425.1"/><use href="#md" x="253.8" y="430.8"/><use href="#md" x="253.8" y="436.4"/><use href="#md" x="259.7" y="251.7"/><use href="#md" x="259.7" y="257.4"/><use href="#md" x="259.7" y="263.1"/><use href="#md" x="259.7" y="268.8"/><use href="#md" x="259.7" y="274.4"/><use href="#md" x="259.7" y="280.2"/><use href="#md" x="259.7" y="285.9"/><use href="#md" x="259.7" y="291.6"/><use href="#md" x="259.7" y="297.2"/><use href="#md" x="259.7" y="302.9"/><use href="#md" x="259.7" y="308.7"/><use href="#md" x="259.7" y="314.4"/><use href="#md" x="259.7" y="320.1"/><use href="#md" x="259.7" y="325.8"/><use href="#md" x="259.7" y="331.4"/><use href="#md" x="259.7" y="337.2"/><use href="#md" x="259.7" y="342.9"/><use href="#md" x="259.7" y="348.6"/><use href="#md" x="259.7" y="354.2"/><use href="#md" x="259.7" y="359.9"/><use href="#md" x="259.7" y="365.7"/><use href="#md" x="259.7" y="371.4"/><use href="#md" x="259.7" y="377.1"/><use href="#md" x="259.7" y="382.8"/><use href="#md" x="259.7" y="388.5"/><use href="#md" x="259.7" y="394.2"/><use href="#md" x="259.7" y="399.9"/><use href="#md" x="259.7" y="405.6"/><use href="#md" x="259.7" y="411.2"/><use href="#md" x="259.7" y="417.0"/><use href="#md" x="259.7" y="422.7"/><use href="#md" x="259.7" y="428.4"/><use href="#md" x="259.7" y="434.1"/><use href="#md" x="259.7" y="439.8"/><use href="#md" x="265.7" y="255.0"/><use href="#md" x="265.7" y="260.7"/><use href="#md" x="265.7" y="266.4"/><use href="#md" x="265.7" y="272.1"/><use href="#md" x="265.7" y="277.8"/><use href="#md" x="265.7" y="283.5"/><use href="#md" x="265.7" y="289.2"/><use href="#md" x="265.7" y="294.9"/><use href="#md" x="265.7" y="300.6"/><use href="#md" x="265.7" y="306.2"/><use href="#md" x="265.7" y="312.0"/><use href="#md" x="265.7" y="317.7"/><use href="#md" x="265.7" y="323.4"/><use href="#md" x="265.7" y="329.1"/><use href="#md" x="265.7" y="334.8"/><use href="#md" x="265.7" y="340.5"/><use href="#md" x="265.7" y="346.2"/><use href="#md" x="265.7" y="351.9"/><use href="#md" x="265.7" y="357.6"/><use href="#md" x="265.7" y="363.2"/><use href="#md" x="265.7" y="369.0"/><use href="#md" x="265.7" y="374.7"/><use href="#md" x="265.7" y="380.4"/><use href="#md" x="265.7" y="386.1"/><use href="#md" x="265.7" y="391.8"/><use href="#md" x="265.7" y="397.5"/><use href="#md" x="265.7" y="403.2"/><use href="#md" x="265.7" y="408.9"/><use href="#md" x="265.7" y="414.6"/><use href="#md" x="265.7" y="420.2"/><use href="#md" x="265.7" y="426.0"/><use href="#md" x="265.7" y="431.7"/><use href="#md" x="265.7" y="437.4"/><use href="#md" x="271.6" y="252.6"/><use href="#md" x="271.6" y="258.2"/><use href="#md" x="271.6" y="264.0"/><use href="#md" x="271.6" y="269.7"/><use href="#md" x="271.6" y="275.4"/><use href="#md" x="271.6" y="281.1"/><use href="#md" x="271.6" y="286.8"/><use href="#md" x="271.6" y="292.5"/><use href="#md" x="271.6" y="298.2"/><use href="#md" x="271.6" y="303.9"/><use href="#md" x="271.6" y="309.6"/><use href="#md" x="271.6" y="315.3"/><use href="#md" x="271.6" y="321.0"/><use href="#md" x="271.6" y="326.7"/><use href="#md" x="271.6" y="332.4"/><use href="#md" x="271.6" y="338.1"/><use href="#md" x="271.6" y="343.8"/><use href="#md" x="271.6" y="349.5"/><use href="#md" x="271.6" y="355.2"/><use href="#md" x="271.6" y="360.9"/><use href="#md" x="271.6" y="366.6"/><use href="#md" x="271.6" y="372.3"/><use href="#md" x="271.6" y="378.0"/><use href="#md" x="271.6" y="383.7"/><use href="#md" x="271.6" y="389.4"/><use href="#md" x="271.6" y="395.1"/><use href="#md" x="271.6" y="400.8"/><use href="#md" x="271.6" y="406.5"/><use href="#md" x="271.6" y="412.2"/><use href="#md" x="271.6" y="417.9"/><use href="#md" x="271.6" y="423.6"/><use href="#md" x="271.6" y="429.3"/><use href="#md" x="271.6" y="435.0"/><use href="#md" x="277.5" y="250.2"/><use href="#md" x="277.5" y="255.9"/><use href="#md" x="277.5" y="261.6"/><use href="#md" x="277.5" y="267.3"/><use href="#md" x="277.5" y="273.0"/><use href="#md" x="277.5" y="278.7"/><use href="#md" x="277.5" y="284.4"/><use href="#md" x="277.5" y="290.1"/><use href="#md" x="277.5" y="295.8"/><use href="#md" x="277.5" y="301.5"/><use href="#md" x="277.5" y="307.2"/><use href="#md" x="277.5" y="312.9"/><use href="#md" x="277.5" y="318.6"/><use href="#md" x="277.5" y="324.3"/><use href="#md" x="277.5" y="330.0"/><use href="#md" x="277.5" y="335.7"/><use href="#md" x="277.5" y="341.4"/><use href="#md" x="277.5" y="347.1"/><use href="#md" x="277.5" y="352.8"/><use href="#md" x="277.5" y="358.5"/><use href="#md" x="277.5" y="364.2"/><use href="#md" x="277.5" y="369.9"/><use href="#md" x="277.5" y="375.6"/><use href="#md" x="277.5" y="381.3"/><use href="#md" x="277.5" y="387.0"/><use href="#md" x="277.5" y="392.7"/><use href="#md" x="277.5" y="398.4"/><use href="#md" x="277.5" y="404.1"/><use href="#md" x="277.5" y="409.8"/><use href="#md" x="277.5" y="415.5"/><use href="#md" x="277.5" y="421.2"/><use href="#md" x="277.5" y="426.9"/><use href="#md" x="277.5" y="432.6"/><use href="#md" x="277.5" y="438.3"/><use href="#md" x="283.4" y="253.4"/><use href="#md" x="283.4" y="259.1"/><use href="#md" x="283.4" y="264.9"/><use href="#md" x="283.4" y="270.6"/><use href="#md" x="283.4" y="276.2"/><use href="#md" x="283.4" y="281.9"/><use href="#md" x="283.4" y="287.6"/><use href="#md" x="283.4" y="293.4"/><use href="#md" x="283.4" y="299.1"/><use href="#md" x="283.4" y="304.8"/><use href="#md" x="283.4" y="310.4"/><use href="#md" x="283.4" y="316.1"/><use href="#md" x="283.4" y="321.9"/><use href="#md" x="283.4" y="327.6"/><use href="#md" x="283.4" y="333.2"/><use href="#md" x="283.4" y="338.9"/><use href="#md" x="283.4" y="344.6"/><use href="#md" x="283.4" y="350.4"/><use href="#md" x="283.4" y="356.1"/><use href="#md" x="283.4" y="361.8"/><use href="#md" x="283.4" y="367.4"/><use href="#md" x="283.4" y="373.1"/><use href="#md" x="283.4" y="378.9"/><use href="#md" x="283.4" y="384.6"/><use href="#md" x="283.4" y="390.2"/><use href="#md" x="283.4" y="395.9"/><use href="#md" x="283.4" y="401.6"/><use href="#md" x="283.4" y="407.4"/><use href="#md" x="283.4" y="413.1"/><use href="#md" x="283.4" y="418.8"/><use href="#md" x="283.4" y="424.4"/><use href="#md" x="283.4" y="430.1"/><use href="#md" x="283.4" y="435.9"/><use href="#md" x="289.4" y="251.1"/><use href="#md" x="289.4" y="256.8"/><use href="#md" x="289.4" y="262.4"/><use href="#md" x="289.4" y="268.1"/><use href="#md" x="289.4" y="273.9"/><use href="#md" x="289.4" y="279.6"/><use href="#md" x="289.4" y="285.2"/><use href="#md" x="289.4" y="290.9"/><use href="#md" x="289.4" y="296.7"/><use href="#md" x="289.4" y="302.4"/><use href="#md" x="289.4" y="308.1"/><use href="#md" x="289.4" y="313.8"/><use href="#md" x="289.4" y="319.4"/><use href="#md" x="289.4" y="325.2"/><use href="#md" x="289.4" y="330.9"/><use href="#md" x="289.4" y="336.6"/><use href="#md" x="289.4" y="342.2"/><use href="#md" x="289.4" y="347.9"/><use href="#md" x="289.4" y="353.7"/><use href="#md" x="289.4" y="359.4"/><use href="#md" x="289.4" y="365.1"/><use href="#md" x="289.4" y="370.8"/><use href="#md" x="289.4" y="376.4"/><use href="#md" x="289.4" y="382.2"/><use href="#md" x="289.4" y="387.9"/><use href="#md" x="289.4" y="393.6"/><use href="#md" x="289.4" y="399.2"/><use href="#md" x="289.4" y="405.0"/><use href="#md" x="289.4" y="410.7"/><use href="#md" x="289.4" y="416.4"/><use href="#md" x="289.4" y="422.1"/><use href="#md" x="289.4" y="427.8"/><use href="#md" x="289.4" y="433.5"/><use href="#md" x="289.4" y="439.2"/><use href="#md" x="295.3" y="254.4"/><use href="#md" x="295.3" y="260.1"/><use href="#md" x="295.3" y="265.8"/><use href="#md" x="295.3" y="271.5"/><use href="#md" x="295.3" y="277.2"/><use href="#md" x="295.3" y="282.9"/><use href="#md" x="295.3" y="288.6"/><use href="#md" x="295.3" y="294.2"/><use href="#md" x="295.3" y="300.0"/><use href="#md" x="295.3" y="305.7"/><use href="#md" x="295.3" y="311.4"/><use href="#md" x="295.3" y="317.1"/><use href="#md" x="295.3" y="322.8"/><use href="#md" x="295.3" y="328.5"/><use href="#md" x="295.3" y="334.2"/><use href="#md" x="295.3" y="339.9"/><use href="#md" x="295.3" y="345.6"/><use href="#md" x="295.3" y="351.2"/><use href="#md" x="295.3" y="357.0"/><use href="#md" x="295.3" y="362.7"/><use href="#md" x="295.3" y="368.4"/><use href="#md" x="295.3" y="374.1"/><use href="#md" x="295.3" y="379.8"/><use href="#md" x="295.3" y="385.5"/><use href="#md" x="295.3" y="391.2"/><use href="#md" x="295.3" y="396.9"/><use href="#md" x="295.3" y="402.6"/><use href="#md" x="295.3" y="408.2"/><use href="#md" x="295.3" y="414.0"/><use href="#md" x="295.3" y="419.7"/><use href="#md" x="295.3" y="425.4"/><use href="#md" x="295.3" y="431.1"/><use href="#md" x="295.3" y="436.8"/><use href="#md" x="301.2" y="252.0"/><use href="#md" x="301.2" y="257.7"/><use href="#md" x="301.2" y="263.4"/><use href="#md" x="301.2" y="269.1"/><use href="#md" x="301.2" y="274.8"/><use href="#md" x="301.2" y="280.5"/><use href="#md" x="301.2" y="286.2"/><use href="#md" x="301.2" y="291.9"/><use href="#md" x="301.2" y="297.6"/><use href="#md" x="301.2" y="303.3"/><use href="#md" x="301.2" y="309.0"/><use href="#md" x="301.2" y="314.7"/><use href="#md" x="301.2" y="320.4"/><use href="#md" x="301.2" y="326.1"/><use href="#md" x="301.2" y="331.8"/><use href="#md" x="301.2" y="337.5"/><use href="#md" x="301.2" y="343.2"/><use href="#md" x="301.2" y="348.9"/><use href="#md" x="301.2" y="354.6"/><use href="#md" x="301.2" y="360.3"/><use href="#md" x="301.2" y="366.0"/><use href="#md" x="301.2" y="371.7"/><use href="#md" x="301.2" y="377.4"/><use href="#md" x="301.2" y="383.1"/><use href="#md" x="301.2" y="388.8"/><use href="#md" x="301.2" y="394.5"/><use href="#md" x="301.2" y="400.2"/><use href="#md" x="301.2" y="405.9"/><use href="#md" x="301.2" y="411.6"/><use href="#md" x="301.2" y="417.3"/><use href="#md" x="301.2" y="423.0"/><use href="#md" x="301.2" y="428.7"/><use href="#md" x="301.2" y="434.4"/><use href="#md" x="307.2" y="255.3"/><use href="#md" x="307.2" y="261.0"/><use href="#md" x="307.2" y="266.7"/><use href="#md" x="307.2" y="272.4"/><use href="#md" x="307.2" y="278.1"/><use href="#md" x="307.2" y="283.8"/><use href="#md" x="307.2" y="289.5"/><use href="#md" x="307.2" y="295.2"/><use href="#md" x="307.2" y="300.9"/><use href="#md" x="307.2" y="306.6"/><use href="#md" x="307.2" y="312.3"/><use href="#md" x="307.2" y="318.0"/><use href="#md" x="307.2" y="323.7"/><use href="#md" x="307.2" y="329.4"/><use href="#md" x="307.2" y="335.1"/><use href="#md" x="307.2" y="340.8"/><use href="#md" x="307.2" y="346.5"/><use href="#md" x="307.2" y="352.2"/><use href="#md" x="307.2" y="357.9"/><use href="#md" x="307.2" y="363.6"/><use href="#md" x="307.2" y="369.3"/><use href="#md" x="307.2" y="375.0"/><use href="#md" x="307.2" y="380.7"/><use href="#md" x="307.2" y="386.4"/><use href="#md" x="307.2" y="392.1"/><use href="#md" x="307.2" y="397.8"/><use href="#md" x="307.2" y="403.5"/><use href="#md" x="307.2" y="409.2"/><use href="#md" x="307.2" y="414.9"/><use href="#md" x="307.2" y="420.6"/><use href="#md" x="307.2" y="426.3"/><use href="#md" x="307.2" y="432.0"/><use href="#md" x="307.2" y="437.7"/><use href="#md" x="313.1" y="252.8"/><use href="#md" x="313.1" y="258.6"/><use href="#md" x="313.1" y="264.2"/><use href="#md" x="313.1" y="269.9"/><use href="#md" x="313.1" y="275.6"/><use href="#md" x="313.1" y="281.4"/><use href="#md" x="313.1" y="287.1"/><use href="#md" x="313.1" y="292.8"/><use href="#md" x="313.1" y="298.4"/><use href="#md" x="313.1" y="304.1"/><use href="#md" x="313.1" y="309.9"/><use href="#md" x="313.1" y="315.6"/><use href="#md" x="313.1" y="321.2"/><use href="#md" x="313.1" y="326.9"/><use href="#md" x="313.1" y="332.6"/><use href="#md" x="313.1" y="338.4"/><use href="#md" x="313.1" y="344.1"/><use href="#md" x="313.1" y="349.8"/><use href="#md" x="313.1" y="355.4"/><use href="#md" x="313.1" y="361.1"/><use href="#md" x="313.1" y="366.9"/><use href="#md" x="313.1" y="372.6"/><use href="#md" x="313.1" y="378.2"/><use href="#md" x="313.1" y="383.9"/><use href="#md" x="313.1" y="389.6"/><use href="#md" x="313.1" y="395.4"/><use href="#md" x="313.1" y="401.1"/><use href="#md" x="313.1" y="406.8"/><use href="#md" x="313.1" y="412.4"/><use href="#md" x="313.1" y="418.1"/><use href="#md" x="313.1" y="423.9"/><use href="#md" x="313.1" y="429.6"/><use href="#md" x="313.1" y="435.2"/><use href="#md" x="319.0" y="250.4"/><use href="#md" x="319.0" y="256.1"/><use href="#md" x="319.0" y="261.9"/><use href="#md" x="319.0" y="267.6"/><use href="#md" x="319.0" y="273.2"/><use href="#md" x="319.0" y="278.9"/><use href="#md" x="319.0" y="284.6"/><use href="#md" x="319.0" y="290.4"/><use href="#md" x="319.0" y="296.1"/><use href="#md" x="319.0" y="301.8"/><use href="#md" x="319.0" y="307.4"/><use href="#md" x="319.0" y="313.2"/><use href="#md" x="319.0" y="318.9"/><use href="#md" x="319.0" y="324.6"/><use href="#md" x="319.0" y="330.2"/><use href="#md" x="319.0" y="335.9"/><use href="#md" x="319.0" y="341.7"/><use href="#md" x="319.0" y="347.4"/><use href="#md" x="319.0" y="353.1"/><use href="#md" x="319.0" y="358.8"/><use href="#md" x="319.0" y="364.4"/><use href="#md" x="319.0" y="370.2"/><use href="#md" x="319.0" y="375.9"/><use href="#md" x="319.0" y="381.6"/><use href="#md" x="319.0" y="387.2"/><use href="#md" x="319.0" y="392.9"/><use href="#md" x="319.0" y="398.7"/><use href="#md" x="319.0" y="404.4"/><use href="#md" x="319.0" y="410.1"/><use href="#md" x="319.0" y="415.8"/><use href="#md" x="319.0" y="421.5"/><use href="#md" x="319.0" y="427.2"/><use href="#md" x="319.0" y="432.9"/><use href="#md" x="319.0" y="438.6"/><use href="#md" x="325.0" y="253.8"/><use href="#md" x="325.0" y="259.5"/><use href="#md" x="325.0" y="265.2"/><use href="#md" x="325.0" y="270.9"/><use href="#md" x="325.0" y="276.6"/><use href="#md" x="325.0" y="282.2"/><use href="#md" x="325.0" y="288.0"/><use href="#md" x="325.0" y="293.7"/><use href="#md" x="325.0" y="299.4"/><use href="#md" x="325.0" y="305.1"/><use href="#md" x="325.0" y="310.8"/><use href="#md" x="325.0" y="316.5"/><use href="#md" x="325.0" y="322.2"/><use href="#md" x="325.0" y="327.9"/><use href="#md" x="325.0" y="333.6"/><use href="#md" x="325.0" y="339.2"/><use href="#md" x="325.0" y="345.0"/><use href="#md" x="325.0" y="350.7"/><use href="#md" x="325.0" y="356.4"/><use href="#md" x="325.0" y="362.1"/><use href="#md" x="325.0" y="367.8"/><use href="#md" x="325.0" y="373.5"/><use href="#md" x="325.0" y="379.2"/><use href="#md" x="325.0" y="384.9"/><use href="#md" x="325.0" y="390.6"/><use href="#md" x="325.0" y="396.2"/><use href="#md" x="325.0" y="402.0"/><use href="#md" x="325.0" y="407.7"/><use href="#md" x="325.0" y="413.4"/><use href="#md" x="325.0" y="419.1"/><use href="#md" x="325.0" y="424.8"/><use href="#md" x="325.0" y="430.5"/><use href="#md" x="325.0" y="436.2"/><use href="#md" x="330.9" y="251.4"/><use href="#md" x="330.9" y="257.1"/><use href="#md" x="330.9" y="262.8"/><use href="#md" x="330.9" y="268.5"/><use href="#md" x="330.9" y="274.2"/><use href="#md" x="330.9" y="279.9"/><use href="#md" x="330.9" y="285.6"/><use href="#md" x="330.9" y="291.2"/><use href="#md" x="330.9" y="297.0"/><use href="#md" x="330.9" y="302.7"/><use href="#md" x="330.9" y="308.4"/><use href="#md" x="330.9" y="314.1"/><use href="#md" x="330.9" y="319.8"/><use href="#md" x="330.9" y="325.5"/><use href="#md" x="330.9" y="331.2"/><use href="#md" x="330.9" y="336.9"/><use href="#md" x="330.9" y="342.6"/><use href="#md" x="330.9" y="348.3"/><use href="#md" x="330.9" y="354.0"/><use href="#md" x="330.9" y="359.7"/><use href="#md" x="330.9" y="365.4"/><use href="#md" x="330.9" y="371.1"/><use href="#md" x="330.9" y="376.8"/><use href="#md" x="330.9" y="382.5"/><use href="#md" x="330.9" y="388.2"/><use href="#md" x="330.9" y="393.9"/><use href="#md" x="330.9" y="399.6"/><use href="#md" x="330.9" y="405.3"/><use href="#md" x="330.9" y="411.0"/><use href="#md" x="330.9" y="416.7"/><use href="#md" x="330.9" y="422.4"/><use href="#md" x="330.9" y="428.1"/><use href="#md" x="330.9" y="433.8"/><use href="#md" x="330.9" y="439.5"/><use href="#md" x="336.8" y="254.7"/><use href="#md" x="336.8" y="260.4"/><use href="#md" x="336.8" y="266.1"/><use href="#md" x="336.8" y="271.8"/><use href="#md" x="336.8" y="277.5"/><use href="#md" x="336.8" y="283.2"/><use href="#md" x="336.8" y="288.9"/><use href="#md" x="336.8" y="294.6"/><use href="#md" x="336.8" y="300.3"/><use href="#md" x="336.8" y="306.0"/><use href="#md" x="336.8" y="311.7"/><use href="#md" x="336.8" y="317.4"/><use href="#md" x="336.8" y="323.1"/><use href="#md" x="336.8" y="328.8"/><use href="#md" x="336.8" y="334.5"/><use href="#md" x="336.8" y="340.2"/><use href="#md" x="336.8" y="345.9"/><use href="#md" x="336.8" y="351.6"/><use href="#md" x="336.8" y="357.3"/><use href="#md" x="336.8" y="363.0"/><use href="#md" x="336.8" y="368.7"/><use href="#md" x="336.8" y="374.4"/><use href="#md" x="336.8" y="380.1"/><use href="#md" x="336.8" y="385.8"/><use href="#md" x="336.8" y="391.5"/><use href="#md" x="336.8" y="397.2"/><use href="#md" x="336.8" y="402.9"/><use href="#md" x="336.8" y="408.6"/><use href="#md" x="336.8" y="414.3"/><use href="#md" x="336.8" y="420.0"/><use href="#md" x="336.8" y="425.7"/><use href="#md" x="336.8" y="431.4"/><use href="#md" x="336.8" y="437.1"/><use href="#md" x="342.8" y="252.2"/><use href="#md" x="342.8" y="257.9"/><use href="#md" x="342.8" y="263.6"/><use href="#md" x="342.8" y="269.4"/><use href="#md" x="342.8" y="275.1"/><use href="#md" x="342.8" y="280.8"/><use href="#md" x="342.8" y="286.4"/><use href="#md" x="342.8" y="292.1"/><use href="#md" x="342.8" y="297.9"/><use href="#md" x="342.8" y="303.6"/><use href="#md" x="342.8" y="309.2"/><use href="#md" x="342.8" y="314.9"/><use href="#md" x="342.8" y="320.6"/><use href="#md" x="342.8" y="326.4"/><use href="#md" x="342.8" y="332.1"/><use href="#md" x="342.8" y="337.8"/><use href="#md" x="342.8" y="343.4"/><use href="#md" x="342.8" y="349.1"/><use href="#md" x="342.8" y="354.9"/><use href="#md" x="342.8" y="360.6"/><use href="#md" x="342.8" y="366.2"/><use href="#md" x="342.8" y="371.9"/><use href="#md" x="342.8" y="377.6"/><use href="#md" x="342.8" y="383.4"/><use href="#md" x="342.8" y="389.1"/><use href="#md" x="342.8" y="394.8"/><use href="#md" x="342.8" y="400.4"/><use href="#md" x="342.8" y="406.1"/><use href="#md" x="342.8" y="411.9"/><use href="#md" x="342.8" y="417.6"/><use href="#md" x="342.8" y="423.2"/><use href="#md" x="342.8" y="428.9"/><use href="#md" x="342.8" y="434.6"/><use href="#md" x="348.7" y="255.6"/><use href="#md" x="348.7" y="261.2"/><use href="#md" x="348.7" y="266.9"/><use href="#md" x="348.7" y="272.6"/><use href="#md" x="348.7" y="278.4"/><use href="#md" x="348.7" y="284.1"/><use href="#md" x="348.7" y="289.8"/><use href="#md" x="348.7" y="295.4"/><use href="#md" x="348.7" y="301.1"/><use href="#md" x="348.7" y="306.9"/><use href="#md" x="348.7" y="312.6"/><use href="#md" x="348.7" y="318.2"/><use href="#md" x="348.7" y="323.9"/><use href="#md" x="348.7" y="329.7"/><use href="#md" x="348.7" y="335.4"/><use href="#md" x="348.7" y="341.1"/><use href="#md" x="348.7" y="346.8"/><use href="#md" x="348.7" y="352.4"/><use href="#md" x="348.7" y="358.2"/><use href="#md" x="348.7" y="363.9"/><use href="#md" x="348.7" y="369.6"/><use href="#md" x="348.7" y="375.2"/><use href="#md" x="348.7" y="380.9"/><use href="#md" x="348.7" y="386.7"/><use href="#md" x="348.7" y="392.4"/><use href="#md" x="348.7" y="398.1"/><use href="#md" x="348.7" y="403.8"/><use href="#md" x="348.7" y="409.4"/><use href="#md" x="348.7" y="415.2"/><use href="#md" x="348.7" y="420.9"/><use href="#md" x="348.7" y="426.6"/><use href="#md" x="348.7" y="432.2"/><use href="#md" x="348.7" y="438.0"/><use href="#md" x="354.6" y="253.2"/><use href="#md" x="354.6" y="258.9"/><use href="#md" x="354.6" y="264.6"/><use href="#md" x="354.6" y="270.2"/><use href="#md" x="354.6" y="276.0"/><use href="#md" x="354.6" y="281.7"/><use href="#md" x="354.6" y="287.4"/><use href="#md" x="354.6" y="293.1"/><use href="#md" x="354.6" y="298.8"/><use href="#md" x="354.6" y="304.5"/><use href="#md" x="354.6" y="310.2"/><use href="#md" x="354.6" y="315.9"/><use href="#md" x="354.6" y="321.6"/><use href="#md" x="354.6" y="327.2"/><use href="#md" x="354.6" y="333.0"/><use href="#md" x="354.6" y="338.7"/><use href="#md" x="354.6" y="344.4"/><use href="#md" x="354.6" y="350.1"/><use href="#md" x="354.6" y="355.8"/><use href="#md" x="354.6" y="361.5"/><use href="#md" x="354.6" y="367.2"/><use href="#md" x="354.6" y="372.9"/><use href="#md" x="354.6" y="378.6"/><use href="#md" x="354.6" y="384.2"/><use href="#md" x="354.6" y="390.0"/><use href="#md" x="354.6" y="395.7"/><use href="#md" x="354.6" y="401.4"/><use href="#md" x="354.6" y="407.1"/><use href="#md" x="354.6" y="412.8"/><use href="#md" x="354.6" y="418.5"/><use href="#md" x="354.6" y="424.2"/><use href="#md" x="354.6" y="429.9"/><use href="#md" x="354.6" y="435.6"/><use href="#md" x="360.5" y="250.8"/><use href="#md" x="360.5" y="256.5"/><use href="#md" x="360.5" y="262.2"/><use href="#md" x="360.5" y="267.9"/><use href="#md" x="360.5" y="273.6"/><use href="#md" x="360.5" y="279.2"/><use href="#md" x="360.5" y="285.0"/><use href="#md" x="360.5" y="290.7"/><use href="#md" x="360.5" y="296.4"/><use href="#md" x="360.5" y="302.1"/><use href="#md" x="360.5" y="307.8"/><use href="#md" x="360.5" y="313.5"/><use href="#md" x="360.5" y="319.2"/><use href="#md" x="360.5" y="324.9"/><use href="#md" x="360.5" y="330.6"/><use href="#md" x="360.5" y="336.3"/><use href="#md" x="360.5" y="342.0"/><use href="#md" x="360.5" y="347.7"/><use href="#md" x="360.5" y="353.4"/><use href="#md" x="360.5" y="359.1"/><use href="#md" x="360.5" y="364.8"/><use href="#md" x="360.5" y="370.5"/><use href="#md" x="360.5" y="376.2"/><use href="#md" x="360.5" y="381.9"/><use href="#md" x="360.5" y="387.6"/><use href="#md" x="360.5" y="393.3"/><use href="#md" x="360.5" y="399.0"/><use href="#md" x="360.5" y="404.7"/><use href="#md" x="360.5" y="410.4"/><use href="#md" x="360.5" y="416.1"/><use href="#md" x="360.5" y="421.8"/><use href="#md" x="360.5" y="427.5"/><use href="#md" x="360.5" y="433.2"/><use href="#md" x="360.5" y="438.9"/><use href="#md" x="366.5" y="254.1"/><use href="#md" x="366.5" y="259.8"/><use href="#md" x="366.5" y="265.5"/><use href="#md" x="366.5" y="271.2"/><use href="#md" x="366.5" y="276.9"/><use href="#md" x="366.5" y="282.6"/><use href="#md" x="366.5" y="288.3"/><use href="#md" x="366.5" y="294.0"/><use href="#md" x="366.5" y="299.7"/><use href="#md" x="366.5" y="305.4"/><use href="#md" x="366.5" y="311.1"/><use href="#md" x="366.5" y="316.8"/><use href="#md" x="366.5" y="322.5"/><use href="#md" x="366.5" y="328.2"/><use href="#md" x="366.5" y="333.9"/><use href="#md" x="366.5" y="339.6"/><use href="#md" x="366.5" y="345.3"/><use href="#md" x="366.5" y="351.0"/><use href="#md" x="366.5" y="356.7"/><use href="#md" x="366.5" y="362.4"/><use href="#md" x="366.5" y="368.1"/><use href="#md" x="366.5" y="373.8"/><use href="#md" x="366.5" y="379.5"/><use href="#md" x="366.5" y="385.2"/><use href="#md" x="366.5" y="390.9"/><use href="#md" x="366.5" y="396.6"/><use href="#md" x="366.5" y="402.3"/><use href="#md" x="366.5" y="408.0"/><use href="#md" x="366.5" y="413.7"/><use href="#md" x="366.5" y="419.4"/><use href="#md" x="366.5" y="425.1"/><use href="#md" x="366.5" y="430.8"/><use href="#md" x="366.5" y="436.5"/><use href="#md" x="372.4" y="251.7"/><use href="#md" x="372.4" y="257.4"/><use href="#md" x="372.4" y="263.1"/><use href="#md" x="372.4" y="268.8"/><use href="#md" x="372.4" y="274.4"/><use href="#md" x="372.4" y="280.1"/><use href="#md" x="372.4" y="285.9"/><use href="#md" x="372.4" y="291.6"/><use href="#md" x="372.4" y="297.2"/><use href="#md" x="372.4" y="302.9"/><use href="#md" x="372.4" y="308.6"/><use href="#md" x="372.4" y="314.4"/><use href="#md" x="372.4" y="320.1"/><use href="#md" x="372.4" y="325.8"/><use href="#md" x="372.4" y="331.4"/><use href="#md" x="372.4" y="337.1"/><use href="#md" x="372.4" y="342.9"/><use href="#md" x="372.4" y="348.6"/><use href="#md" x="372.4" y="354.2"/><use href="#md" x="372.4" y="359.9"/><use href="#md" x="372.4" y="365.6"/><use href="#md" x="372.4" y="371.4"/><use href="#md" x="372.4" y="377.1"/><use href="#md" x="372.4" y="382.8"/><use href="#md" x="372.4" y="388.4"/><use href="#md" x="372.4" y="394.1"/><use href="#md" x="372.4" y="399.9"/><use href="#md" x="372.4" y="405.6"/><use href="#md" x="372.4" y="411.2"/><use href="#md" x="372.4" y="416.9"/><use href="#md" x="372.4" y="422.6"/><use href="#md" x="372.4" y="428.4"/><use href="#md" x="372.4" y="434.1"/><use href="#md" x="372.4" y="439.8"/><use href="#md" x="378.3" y="255.0"/><use href="#md" x="378.3" y="260.6"/><use href="#md" x="378.3" y="266.4"/><use href="#md" x="378.3" y="272.1"/><use href="#md" x="378.3" y="277.8"/><use href="#md" x="378.3" y="283.4"/><use href="#md" x="378.3" y="289.1"/><use href="#md" x="378.3" y="294.9"/><use href="#md" x="378.3" y="300.6"/><use href="#md" x="378.3" y="306.2"/><use href="#md" x="378.3" y="311.9"/><use href="#md" x="378.3" y="317.6"/><use href="#md" x="378.3" y="323.4"/><use href="#md" x="378.3" y="329.1"/><use href="#md" x="378.3" y="334.8"/><use href="#md" x="378.3" y="340.4"/><use href="#md" x="378.3" y="346.2"/><use href="#md" x="378.3" y="351.9"/><use href="#md" x="378.3" y="357.6"/><use href="#md" x="378.3" y="363.2"/><use href="#md" x="378.3" y="368.9"/><use href="#md" x="378.3" y="374.7"/><use href="#md" x="378.3" y="380.4"/><use href="#md" x="378.3" y="386.1"/><use href="#md" x="378.3" y="391.8"/><use href="#md" x="378.3" y="397.4"/><use href="#md" x="378.3" y="403.2"/><use href="#md" x="378.3" y="408.9"/><use href="#md" x="378.3" y="414.6"/><use href="#md" x="378.3" y="420.2"/><use href="#md" x="378.3" y="425.9"/><use href="#md" x="378.3" y="431.7"/><use href="#md" x="378.3" y="437.4"/><use href="#md" x="384.3" y="252.6"/><use href="#md" x="384.3" y="258.2"/><use href="#md" x="384.3" y="264.0"/><use href="#md" x="384.3" y="269.7"/><use href="#md" x="384.3" y="275.4"/><use href="#md" x="384.3" y="281.1"/><use href="#md" x="384.3" y="286.8"/><use href="#md" x="384.3" y="292.5"/><use href="#md" x="384.3" y="298.2"/><use href="#md" x="384.3" y="303.9"/><use href="#md" x="384.3" y="309.6"/><use href="#md" x="384.3" y="315.2"/><use href="#md" x="384.3" y="321.0"/><use href="#md" x="384.3" y="326.7"/><use href="#md" x="384.3" y="332.4"/><use href="#md" x="384.3" y="338.1"/><use href="#md" x="384.3" y="343.8"/><use href="#md" x="384.3" y="349.5"/><use href="#md" x="384.3" y="355.2"/><use href="#md" x="384.3" y="360.9"/><use href="#md" x="384.3" y="366.6"/><use href="#md" x="384.3" y="372.2"/><use href="#md" x="384.3" y="378.0"/><use href="#md" x="384.3" y="383.7"/><use href="#md" x="384.3" y="389.4"/><use href="#md" x="384.3" y="395.1"/><use href="#md" x="384.3" y="400.8"/><use href="#md" x="384.3" y="406.5"/><use href="#md" x="384.3" y="412.2"/><use href="#md" x="384.3" y="417.9"/><use href="#md" x="384.3" y="423.6"/><use href="#md" x="384.3" y="429.2"/><use href="#md" x="384.3" y="435.0"/></g>
<path d="M380.5,353  C380.1,354.0 379.6,358.4 378.3,361.7 C377.1,365.0 375.0,368.9 373.0,372.5 C371.0,376.1 368.8,380.1 366.4,383.3 C364.0,386.6 361.3,389.1 358.8,392.0 C356.3,394.9 354.4,397.1 351.3,401.0 C348.2,404.9 344.1,411.6 340.0,415.5 C335.9,419.4 331.1,422.1 326.7,424.5 C322.2,426.9 317.8,428.7 313.3,430.0 C308.9,431.3 304.7,431.9 300.0,432.3 C295.3,432.7 288.7,432.8 285.0,432.4 C281.3,432.0 280.3,431.1 278.0,430.0 C275.7,428.9 272.9,427.6 271.0,426.0 C269.1,424.4 267.1,421.2 266.3,420.2" fill="none" stroke="#111" stroke-width="2.8" stroke-linecap="round"/>
<path d="M351.3,401.0 C349.4,403.4 344.1,411.6 340.0,415.5 C335.9,419.4 331.1,422.1 326.7,424.5 C322.2,426.9 317.8,428.7 313.3,430.0 C308.9,431.3 304.7,431.9 300.0,432.3 C295.3,432.7 288.7,432.8 285.0,432.4 C281.3,432.0 280.3,431.1 278.0,430.0 C275.7,428.9 272.9,427.6 271.0,426.0 C269.1,424.4 267.1,421.2 266.3,420.2" fill="none" stroke="#111" stroke-width="4.2" stroke-linecap="round"/>
<path d="M200,283.6 Q207.5,272 215,256.6" fill="none" stroke="#111" stroke-width="2.45"/>
<path d="M215.0,256.6 L224.5,250.2 L391.9,347.0 L380.5,353.3Z" fill="#111" stroke="#111" stroke-width="0.6" stroke-linejoin="round"/>
<path d="M221.4,258.8 L223.8,253.8 M220.6,256.1 L222.7,256.6" stroke="#fff" stroke-width="1.25" fill="none" stroke-linecap="round"/>
<path d="M226.9,262.0 L229.3,257.0 M226.1,259.3 L228.2,259.8" stroke="#fff" stroke-width="1.25" fill="none" stroke-linecap="round"/>
<path d="M232.4,265.1 L234.8,260.1 M231.6,262.4 L233.7,262.9" stroke="#fff" stroke-width="1.25" fill="none" stroke-linecap="round"/>
<path d="M237.9,268.3 L240.3,263.3 M237.1,265.6 L239.2,266.1" stroke="#fff" stroke-width="1.25" fill="none" stroke-linecap="round"/>
<path d="M243.4,271.5 L245.8,266.5 M242.6,268.8 L244.7,269.3" stroke="#fff" stroke-width="1.25" fill="none" stroke-linecap="round"/>
<path d="M248.9,274.6 L251.3,269.6 M248.1,271.9 L250.2,272.4" stroke="#fff" stroke-width="1.25" fill="none" stroke-linecap="round"/>
<path d="M254.4,277.8 L256.8,272.8 M253.6,275.1 L255.7,275.6" stroke="#fff" stroke-width="1.25" fill="none" stroke-linecap="round"/>
<path d="M259.9,281.0 L262.3,276.0 M259.1,278.3 L261.2,278.8" stroke="#fff" stroke-width="1.25" fill="none" stroke-linecap="round"/>
<path d="M265.4,284.2 L267.8,279.2 M264.6,281.5 L266.7,282.0" stroke="#fff" stroke-width="1.25" fill="none" stroke-linecap="round"/>
<path d="M270.9,287.3 L273.3,282.3 M270.1,284.6 L272.2,285.1" stroke="#fff" stroke-width="1.25" fill="none" stroke-linecap="round"/>
<path d="M276.4,290.5 L278.8,285.5 M275.6,287.8 L277.7,288.3" stroke="#fff" stroke-width="1.25" fill="none" stroke-linecap="round"/>
<path d="M281.9,293.7 L284.3,288.7 M281.1,291.0 L283.2,291.5" stroke="#fff" stroke-width="1.25" fill="none" stroke-linecap="round"/>
<path d="M287.4,296.8 L289.8,291.8 M286.6,294.1 L288.7,294.6" stroke="#fff" stroke-width="1.25" fill="none" stroke-linecap="round"/>
<path d="M292.9,300.0 L295.3,295.0 M292.1,297.3 L294.2,297.8" stroke="#fff" stroke-width="1.25" fill="none" stroke-linecap="round"/>
<path d="M298.4,303.2 L300.8,298.2 M297.6,300.5 L299.7,301.0" stroke="#fff" stroke-width="1.25" fill="none" stroke-linecap="round"/>
<path d="M303.9,306.3 L306.3,301.3 M303.1,303.6 L305.2,304.1" stroke="#fff" stroke-width="1.25" fill="none" stroke-linecap="round"/>
<path d="M309.4,309.5 L311.8,304.5 M308.6,306.8 L310.7,307.3" stroke="#fff" stroke-width="1.25" fill="none" stroke-linecap="round"/>
<path d="M314.9,312.7 L317.3,307.7 M314.1,310.0 L316.2,310.5" stroke="#fff" stroke-width="1.25" fill="none" stroke-linecap="round"/>
<path d="M320.4,315.9 L322.8,310.9 M319.6,313.2 L321.7,313.7" stroke="#fff" stroke-width="1.25" fill="none" stroke-linecap="round"/>
<path d="M325.9,319.0 L328.3,314.0 M325.1,316.3 L327.2,316.8" stroke="#fff" stroke-width="1.25" fill="none" stroke-linecap="round"/>
<path d="M331.4,322.2 L333.8,317.2 M330.6,319.5 L332.7,320.0" stroke="#fff" stroke-width="1.25" fill="none" stroke-linecap="round"/>
<path d="M336.9,325.4 L339.3,320.4 M336.1,322.7 L338.2,323.2" stroke="#fff" stroke-width="1.25" fill="none" stroke-linecap="round"/>
<path d="M342.4,328.5 L344.8,323.5 M341.6,325.8 L343.7,326.3" stroke="#fff" stroke-width="1.25" fill="none" stroke-linecap="round"/>
<path d="M347.9,331.7 L350.3,326.7 M347.1,329.0 L349.2,329.5" stroke="#fff" stroke-width="1.25" fill="none" stroke-linecap="round"/>
<path d="M353.4,334.9 L355.8,329.9 M352.6,332.2 L354.7,332.7" stroke="#fff" stroke-width="1.25" fill="none" stroke-linecap="round"/>
<path d="M358.9,338.0 L361.3,333.0 M358.1,335.3 L360.2,335.8" stroke="#fff" stroke-width="1.25" fill="none" stroke-linecap="round"/>
<path d="M364.4,341.2 L366.8,336.2 M363.6,338.5 L365.7,339.0" stroke="#fff" stroke-width="1.25" fill="none" stroke-linecap="round"/>
<path d="M369.9,344.4 L372.3,339.4 M369.1,341.7 L371.2,342.2" stroke="#fff" stroke-width="1.25" fill="none" stroke-linecap="round"/>
<path d="M375.4,347.6 L377.8,342.6 M374.6,344.9 L376.7,345.4" stroke="#fff" stroke-width="1.25" fill="none" stroke-linecap="round"/>
<path d="M380.9,350.7 L383.3,345.7 M380.1,348.0 L382.2,348.5" stroke="#fff" stroke-width="1.25" fill="none" stroke-linecap="round"/>
<clipPath id="chkClip"><path d="M222,403 L262,425.5 L258,444 L251.2,443.5 L224.3,428.3 L222,428Z"/></clipPath>
<path d="M222,403 L262,425.5 L258,444 L251.2,443.5 L224.3,428.3 L222,428Z" fill="#111" stroke="none"/>
<g clip-path="url(#chkClip)" fill="#fff"><rect x="-1.35" y="-0.8" width="2.7" height="1.6" transform="translate(225.7,402.8) rotate(29)"/><rect x="-1.35" y="-0.8" width="2.7" height="1.6" transform="translate(223.5,404.0) rotate(29)"/><rect x="-1.35" y="-0.8" width="2.7" height="1.6" transform="translate(225.7,407.6) rotate(29)"/><rect x="-1.35" y="-0.8" width="2.7" height="1.6" transform="translate(223.5,408.9) rotate(29)"/><rect x="-1.35" y="-0.8" width="2.7" height="1.6" transform="translate(225.7,412.6) rotate(29)"/><rect x="-1.35" y="-0.8" width="2.7" height="1.6" transform="translate(223.5,413.8) rotate(29)"/><rect x="-1.35" y="-0.8" width="2.7" height="1.6" transform="translate(225.7,417.4) rotate(29)"/><rect x="-1.35" y="-0.8" width="2.7" height="1.6" transform="translate(223.5,418.7) rotate(29)"/><rect x="-1.35" y="-0.8" width="2.7" height="1.6" transform="translate(225.7,422.3) rotate(29)"/><rect x="-1.35" y="-0.8" width="2.7" height="1.6" transform="translate(223.5,423.6) rotate(29)"/><rect x="-1.35" y="-0.8" width="2.7" height="1.6" transform="translate(225.7,427.2) rotate(29)"/><rect x="-1.35" y="-0.8" width="2.7" height="1.6" transform="translate(223.5,428.5) rotate(29)"/><rect x="-1.35" y="-0.8" width="2.7" height="1.6" transform="translate(225.7,432.1) rotate(29)"/><rect x="-1.35" y="-0.8" width="2.7" height="1.6" transform="translate(230.0,400.2) rotate(29)"/><rect x="-1.35" y="-0.8" width="2.7" height="1.6" transform="translate(227.8,401.5) rotate(29)"/><rect x="-1.35" y="-0.8" width="2.7" height="1.6" transform="translate(230.0,405.1) rotate(29)"/><rect x="-1.35" y="-0.8" width="2.7" height="1.6" transform="translate(227.8,406.4) rotate(29)"/><rect x="-1.35" y="-0.8" width="2.7" height="1.6" transform="translate(230.0,410.0) rotate(29)"/><rect x="-1.35" y="-0.8" width="2.7" height="1.6" transform="translate(227.8,411.3) rotate(29)"/><rect x="-1.35" y="-0.8" width="2.7" height="1.6" transform="translate(230.0,414.9) rotate(29)"/><rect x="-1.35" y="-0.8" width="2.7" height="1.6" transform="translate(227.8,416.2) rotate(29)"/><rect x="-1.35" y="-0.8" width="2.7" height="1.6" transform="translate(230.0,419.8) rotate(29)"/><rect x="-1.35" y="-0.8" width="2.7" height="1.6" transform="translate(227.8,421.1) rotate(29)"/><rect x="-1.35" y="-0.8" width="2.7" height="1.6" transform="translate(230.0,424.7) rotate(29)"/><rect x="-1.35" y="-0.8" width="2.7" height="1.6" transform="translate(227.8,426.0) rotate(29)"/><rect x="-1.35" y="-0.8" width="2.7" height="1.6" transform="translate(230.0,429.6) rotate(29)"/><rect x="-1.35" y="-0.8" width="2.7" height="1.6" transform="translate(227.8,430.9) rotate(29)"/><rect x="-1.35" y="-0.8" width="2.7" height="1.6" transform="translate(230.0,434.5) rotate(29)"/><rect x="-1.35" y="-0.8" width="2.7" height="1.6" transform="translate(234.2,402.6) rotate(29)"/><rect x="-1.35" y="-0.8" width="2.7" height="1.6" transform="translate(232.1,403.9) rotate(29)"/><rect x="-1.35" y="-0.8" width="2.7" height="1.6" transform="translate(234.2,407.6) rotate(29)"/><rect x="-1.35" y="-0.8" width="2.7" height="1.6" transform="translate(232.1,408.8) rotate(29)"/><rect x="-1.35" y="-0.8" width="2.7" height="1.6" transform="translate(234.2,412.4) rotate(29)"/><rect x="-1.35" y="-0.8" width="2.7" height="1.6" transform="translate(232.1,413.7) rotate(29)"/><rect x="-1.35" y="-0.8" width="2.7" height="1.6" transform="translate(234.2,417.4) rotate(29)"/><rect x="-1.35" y="-0.8" width="2.7" height="1.6" transform="translate(232.1,418.6) rotate(29)"/><rect x="-1.35" y="-0.8" width="2.7" height="1.6" transform="translate(234.2,422.2) rotate(29)"/><rect x="-1.35" y="-0.8" width="2.7" height="1.6" transform="translate(232.1,423.5) rotate(29)"/><rect x="-1.35" y="-0.8" width="2.7" height="1.6" transform="translate(234.2,427.1) rotate(29)"/><rect x="-1.35" y="-0.8" width="2.7" height="1.6" transform="translate(232.1,428.4) rotate(29)"/><rect x="-1.35" y="-0.8" width="2.7" height="1.6" transform="translate(234.2,432.1) rotate(29)"/><rect x="-1.35" y="-0.8" width="2.7" height="1.6" transform="translate(232.1,433.3) rotate(29)"/><rect x="-1.35" y="-0.8" width="2.7" height="1.6" transform="translate(234.2,436.9) rotate(29)"/><rect x="-1.35" y="-0.8" width="2.7" height="1.6" transform="translate(236.4,401.4) rotate(29)"/><rect x="-1.35" y="-0.8" width="2.7" height="1.6" transform="translate(238.6,405.0) rotate(29)"/><rect x="-1.35" y="-0.8" width="2.7" height="1.6" transform="translate(236.4,406.3) rotate(29)"/><rect x="-1.35" y="-0.8" width="2.7" height="1.6" transform="translate(238.6,409.9) rotate(29)"/><rect x="-1.35" y="-0.8" width="2.7" height="1.6" transform="translate(236.4,411.2) rotate(29)"/><rect x="-1.35" y="-0.8" width="2.7" height="1.6" transform="translate(238.6,414.8) rotate(29)"/><rect x="-1.35" y="-0.8" width="2.7" height="1.6" transform="translate(236.4,416.1) rotate(29)"/><rect x="-1.35" y="-0.8" width="2.7" height="1.6" transform="translate(238.6,419.8) rotate(29)"/><rect x="-1.35" y="-0.8" width="2.7" height="1.6" transform="translate(236.4,421.0) rotate(29)"/><rect x="-1.35" y="-0.8" width="2.7" height="1.6" transform="translate(238.6,424.6) rotate(29)"/><rect x="-1.35" y="-0.8" width="2.7" height="1.6" transform="translate(236.4,425.9) rotate(29)"/><rect x="-1.35" y="-0.8" width="2.7" height="1.6" transform="translate(238.6,429.5) rotate(29)"/><rect x="-1.35" y="-0.8" width="2.7" height="1.6" transform="translate(236.4,430.8) rotate(29)"/><rect x="-1.35" y="-0.8" width="2.7" height="1.6" transform="translate(238.6,434.4) rotate(29)"/><rect x="-1.35" y="-0.8" width="2.7" height="1.6" transform="translate(236.4,435.7) rotate(29)"/><rect x="-1.35" y="-0.8" width="2.7" height="1.6" transform="translate(238.6,439.3) rotate(29)"/><rect x="-1.35" y="-0.8" width="2.7" height="1.6" transform="translate(240.7,403.8) rotate(29)"/><rect x="-1.35" y="-0.8" width="2.7" height="1.6" transform="translate(242.8,407.4) rotate(29)"/><rect x="-1.35" y="-0.8" width="2.7" height="1.6" transform="translate(240.7,408.7) rotate(29)"/><rect x="-1.35" y="-0.8" width="2.7" height="1.6" transform="translate(242.8,412.4) rotate(29)"/><rect x="-1.35" y="-0.8" width="2.7" height="1.6" transform="translate(240.7,413.6) rotate(29)"/><rect x="-1.35" y="-0.8" width="2.7" height="1.6" transform="translate(242.8,417.2) rotate(29)"/><rect x="-1.35" y="-0.8" width="2.7" height="1.6" transform="translate(240.7,418.5) rotate(29)"/><rect x="-1.35" y="-0.8" width="2.7" height="1.6" transform="translate(242.8,422.2) rotate(29)"/><rect x="-1.35" y="-0.8" width="2.7" height="1.6" transform="translate(240.7,423.4) rotate(29)"/><rect x="-1.35" y="-0.8" width="2.7" height="1.6" transform="translate(242.8,427.1) rotate(29)"/><rect x="-1.35" y="-0.8" width="2.7" height="1.6" transform="translate(240.7,428.3) rotate(29)"/><rect x="-1.35" y="-0.8" width="2.7" height="1.6" transform="translate(242.8,431.9) rotate(29)"/><rect x="-1.35" y="-0.8" width="2.7" height="1.6" transform="translate(240.7,433.2) rotate(29)"/><rect x="-1.35" y="-0.8" width="2.7" height="1.6" transform="translate(242.8,436.9) rotate(29)"/><rect x="-1.35" y="-0.8" width="2.7" height="1.6" transform="translate(240.7,438.1) rotate(29)"/><rect x="-1.35" y="-0.8" width="2.7" height="1.6" transform="translate(242.8,441.8) rotate(29)"/><rect x="-1.35" y="-0.8" width="2.7" height="1.6" transform="translate(245.0,406.2) rotate(29)"/><rect x="-1.35" y="-0.8" width="2.7" height="1.6" transform="translate(247.2,409.8) rotate(29)"/><rect x="-1.35" y="-0.8" width="2.7" height="1.6" transform="translate(245.0,411.1) rotate(29)"/><rect x="-1.35" y="-0.8" width="2.7" height="1.6" transform="translate(247.2,414.8) rotate(29)"/><rect x="-1.35" y="-0.8" width="2.7" height="1.6" transform="translate(245.0,416.0) rotate(29)"/><rect x="-1.35" y="-0.8" width="2.7" height="1.6" transform="translate(247.2,419.6) rotate(29)"/><rect x="-1.35" y="-0.8" width="2.7" height="1.6" transform="translate(245.0,420.9) rotate(29)"/><rect x="-1.35" y="-0.8" width="2.7" height="1.6" transform="translate(247.2,424.6) rotate(29)"/><rect x="-1.35" y="-0.8" width="2.7" height="1.6" transform="translate(245.0,425.8) rotate(29)"/><rect x="-1.35" y="-0.8" width="2.7" height="1.6" transform="translate(247.2,429.4) rotate(29)"/><rect x="-1.35" y="-0.8" width="2.7" height="1.6" transform="translate(245.0,430.7) rotate(29)"/><rect x="-1.35" y="-0.8" width="2.7" height="1.6" transform="translate(247.2,434.3) rotate(29)"/><rect x="-1.35" y="-0.8" width="2.7" height="1.6" transform="translate(245.0,435.6) rotate(29)"/><rect x="-1.35" y="-0.8" width="2.7" height="1.6" transform="translate(247.2,439.2) rotate(29)"/><rect x="-1.35" y="-0.8" width="2.7" height="1.6" transform="translate(245.0,440.5) rotate(29)"/><rect x="-1.35" y="-0.8" width="2.7" height="1.6" transform="translate(247.2,444.1) rotate(29)"/><rect x="-1.35" y="-0.8" width="2.7" height="1.6" transform="translate(249.3,408.6) rotate(29)"/><rect x="-1.35" y="-0.8" width="2.7" height="1.6" transform="translate(251.5,412.2) rotate(29)"/><rect x="-1.35" y="-0.8" width="2.7" height="1.6" transform="translate(249.3,413.5) rotate(29)"/><rect x="-1.35" y="-0.8" width="2.7" height="1.6" transform="translate(251.5,417.1) rotate(29)"/><rect x="-1.35" y="-0.8" width="2.7" height="1.6" transform="translate(249.3,418.4) rotate(29)"/><rect x="-1.35" y="-0.8" width="2.7" height="1.6" transform="translate(251.5,422.0) rotate(29)"/><rect x="-1.35" y="-0.8" width="2.7" height="1.6" transform="translate(249.3,423.3) rotate(29)"/><rect x="-1.35" y="-0.8" width="2.7" height="1.6" transform="translate(251.5,426.9) rotate(29)"/><rect x="-1.35" y="-0.8" width="2.7" height="1.6" transform="translate(249.3,428.2) rotate(29)"/><rect x="-1.35" y="-0.8" width="2.7" height="1.6" transform="translate(251.5,431.8) rotate(29)"/><rect x="-1.35" y="-0.8" width="2.7" height="1.6" transform="translate(249.3,433.1) rotate(29)"/><rect x="-1.35" y="-0.8" width="2.7" height="1.6" transform="translate(251.5,436.7) rotate(29)"/><rect x="-1.35" y="-0.8" width="2.7" height="1.6" transform="translate(249.3,438.0) rotate(29)"/><rect x="-1.35" y="-0.8" width="2.7" height="1.6" transform="translate(251.5,441.6) rotate(29)"/><rect x="-1.35" y="-0.8" width="2.7" height="1.6" transform="translate(249.3,442.9) rotate(29)"/><rect x="-1.35" y="-0.8" width="2.7" height="1.6" transform="translate(251.5,446.5) rotate(29)"/><rect x="-1.35" y="-0.8" width="2.7" height="1.6" transform="translate(253.6,411.0) rotate(29)"/><rect x="-1.35" y="-0.8" width="2.7" height="1.6" transform="translate(255.8,414.6) rotate(29)"/><rect x="-1.35" y="-0.8" width="2.7" height="1.6" transform="translate(253.6,415.9) rotate(29)"/><rect x="-1.35" y="-0.8" width="2.7" height="1.6" transform="translate(255.8,419.6) rotate(29)"/><rect x="-1.35" y="-0.8" width="2.7" height="1.6" transform="translate(253.6,420.8) rotate(29)"/><rect x="-1.35" y="-0.8" width="2.7" height="1.6" transform="translate(255.8,424.4) rotate(29)"/><rect x="-1.35" y="-0.8" width="2.7" height="1.6" transform="translate(253.6,425.7) rotate(29)"/><rect x="-1.35" y="-0.8" width="2.7" height="1.6" transform="translate(255.8,429.4) rotate(29)"/><rect x="-1.35" y="-0.8" width="2.7" height="1.6" transform="translate(253.6,430.6) rotate(29)"/><rect x="-1.35" y="-0.8" width="2.7" height="1.6" transform="translate(255.8,434.2) rotate(29)"/><rect x="-1.35" y="-0.8" width="2.7" height="1.6" transform="translate(253.6,435.5) rotate(29)"/><rect x="-1.35" y="-0.8" width="2.7" height="1.6" transform="translate(255.8,439.1) rotate(29)"/><rect x="-1.35" y="-0.8" width="2.7" height="1.6" transform="translate(253.6,440.4) rotate(29)"/><rect x="-1.35" y="-0.8" width="2.7" height="1.6" transform="translate(255.8,444.1) rotate(29)"/><rect x="-1.35" y="-0.8" width="2.7" height="1.6" transform="translate(253.6,445.3) rotate(29)"/><rect x="-1.35" y="-0.8" width="2.7" height="1.6" transform="translate(257.9,413.4) rotate(29)"/><rect x="-1.35" y="-0.8" width="2.7" height="1.6" transform="translate(260.0,417.0) rotate(29)"/><rect x="-1.35" y="-0.8" width="2.7" height="1.6" transform="translate(257.9,418.3) rotate(29)"/><rect x="-1.35" y="-0.8" width="2.7" height="1.6" transform="translate(260.0,421.9) rotate(29)"/><rect x="-1.35" y="-0.8" width="2.7" height="1.6" transform="translate(257.9,423.2) rotate(29)"/><rect x="-1.35" y="-0.8" width="2.7" height="1.6" transform="translate(260.0,426.8) rotate(29)"/><rect x="-1.35" y="-0.8" width="2.7" height="1.6" transform="translate(257.9,428.1) rotate(29)"/><rect x="-1.35" y="-0.8" width="2.7" height="1.6" transform="translate(260.0,431.8) rotate(29)"/><rect x="-1.35" y="-0.8" width="2.7" height="1.6" transform="translate(257.9,433.0) rotate(29)"/><rect x="-1.35" y="-0.8" width="2.7" height="1.6" transform="translate(260.0,436.6) rotate(29)"/><rect x="-1.35" y="-0.8" width="2.7" height="1.6" transform="translate(257.9,437.9) rotate(29)"/><rect x="-1.35" y="-0.8" width="2.7" height="1.6" transform="translate(260.0,441.5) rotate(29)"/><rect x="-1.35" y="-0.8" width="2.7" height="1.6" transform="translate(257.9,442.8) rotate(29)"/><rect x="-1.35" y="-0.8" width="2.7" height="1.6" transform="translate(260.0,446.4) rotate(29)"/><rect x="-1.35" y="-0.8" width="2.7" height="1.6" transform="translate(257.9,447.7) rotate(29)"/><rect x="-1.35" y="-0.8" width="2.7" height="1.6" transform="translate(262.2,415.8) rotate(29)"/><rect x="-1.35" y="-0.8" width="2.7" height="1.6" transform="translate(264.3,419.4) rotate(29)"/><rect x="-1.35" y="-0.8" width="2.7" height="1.6" transform="translate(262.2,420.7) rotate(29)"/><rect x="-1.35" y="-0.8" width="2.7" height="1.6" transform="translate(264.3,424.4) rotate(29)"/><rect x="-1.35" y="-0.8" width="2.7" height="1.6" transform="translate(262.2,425.6) rotate(29)"/><rect x="-1.35" y="-0.8" width="2.7" height="1.6" transform="translate(264.3,429.2) rotate(29)"/><rect x="-1.35" y="-0.8" width="2.7" height="1.6" transform="translate(262.2,430.5) rotate(29)"/><rect x="-1.35" y="-0.8" width="2.7" height="1.6" transform="translate(264.3,434.2) rotate(29)"/><rect x="-1.35" y="-0.8" width="2.7" height="1.6" transform="translate(262.2,435.4) rotate(29)"/><rect x="-1.35" y="-0.8" width="2.7" height="1.6" transform="translate(264.3,439.1) rotate(29)"/><rect x="-1.35" y="-0.8" width="2.7" height="1.6" transform="translate(262.2,440.3) rotate(29)"/><rect x="-1.35" y="-0.8" width="2.7" height="1.6" transform="translate(264.3,443.9) rotate(29)"/><rect x="-1.35" y="-0.8" width="2.7" height="1.6" transform="translate(262.2,445.2) rotate(29)"/></g>
<path d="M251.2,443.5 L224.3,428.3" fill="none" stroke="#111" stroke-width="2.4"/>
<path d="M222.0,393.4 L266.3,419.6 L267.5,423.0 L263.5,428.5 L222.0,405.5Z" fill="#111" stroke="#111" stroke-width="1"/>
<ellipse cx="226.6" cy="401.2" rx="1.9" ry="2.5" transform="rotate(-15 226.6 401.2)" fill="none" stroke="#fff" stroke-width="1.0"/>
<ellipse cx="232.5" cy="404.6" rx="1.9" ry="2.5" transform="rotate(-15 232.5 404.6)" fill="none" stroke="#fff" stroke-width="1.0"/>
<ellipse cx="238.4" cy="408.0" rx="1.9" ry="2.5" transform="rotate(-15 238.4 408.0)" fill="none" stroke="#fff" stroke-width="1.0"/>
<ellipse cx="244.3" cy="411.4" rx="1.9" ry="2.5" transform="rotate(-15 244.3 411.4)" fill="none" stroke="#fff" stroke-width="1.0"/>
<ellipse cx="250.2" cy="414.8" rx="1.9" ry="2.5" transform="rotate(-15 250.2 414.8)" fill="none" stroke="#fff" stroke-width="1.0"/>
<ellipse cx="256.1" cy="418.2" rx="1.9" ry="2.5" transform="rotate(-15 256.1 418.2)" fill="none" stroke="#fff" stroke-width="1.0"/>
<path d="M306.0,445.0 L323.8,455.2 M325.3,456.0 L327.7,457.4 M329.2,458.3 L353.3,472.1 M354.8,473.0 L357.2,474.3 M358.7,475.2 L382.7,489.0 M384.2,489.8 L386.6,491.2 M388.1,492.0 L412.1,505.8 M413.6,506.6 L416.0,508.0 M417.5,508.9 L442.7,523.3" fill="none" stroke="#111" stroke-width="2.15"/>
<path d="M112.5,122.5 L117.5,119.5 Q161.5,133.7 222.7,180.5 L217.8,183.0 Q163.2,140.7 112.5,122.5Z" fill="#fff" stroke="#111" stroke-width="2.45" stroke-linejoin="round" stroke-linecap="round"/>
<path d="M217.8,183.0 L222.7,180.5 L222.7,232.5 L217.8,237.3Z" fill="#fff" stroke="#111" stroke-width="2.45" stroke-linejoin="round" stroke-linecap="round"/>
<path d="M159,266.2 L163.5,262.5 L221.8,296.5 L221.8,498 L216.8,497 L216.8,300.5Z" fill="#fff" stroke="#111" stroke-width="2.45" stroke-linejoin="round" stroke-linecap="round"/>
<path d="M112.5,122.5 Q163.2,140.7 217.8,183.0 L217.8,237.3  C217.5,237.1 217.0,237.1 216.0,236.3 C215.0,235.5 213.3,234.2 212.0,232.3 C210.7,230.4 209.2,226.9 208.0,225.0 C206.8,223.1 205.9,221.2 204.7,221.0 C203.5,220.8 202.1,223.0 200.7,223.7 C199.2,224.4 197.3,225.4 196.0,225.0 C194.7,224.6 193.9,222.9 192.7,221.0 C191.5,219.1 189.8,215.5 188.7,213.7 C187.6,211.9 187.1,210.5 186.0,210.3 C184.9,210.1 183.4,211.6 182.0,212.3 C180.6,213.0 178.5,214.6 177.3,214.3 C176.1,214.0 175.7,212.1 174.7,210.3 C173.7,208.5 172.5,205.6 171.3,203.7 C170.1,201.8 168.7,200.1 167.3,199.0 C165.9,197.9 163.5,197.3 162.7,197.0 Q160.2,195.8 159.0,200.5 L159,266.2 L216.8,300.5 L216.8,497 L216.8,459.6 L212.5,468 L211.6,491 L148,454 L140,453.5 L131.2,451.9 L121.2,448 L112.5,441Z" fill="#fff" stroke="#111" stroke-width="2.45" stroke-linejoin="round" stroke-linecap="round"/>
<path d="M163.5,198.0 L163.5,262.5" fill="none" stroke="#111" stroke-width="2.45"/>
<path d="M211.2,491 L217,497.5" fill="none" stroke="#111" stroke-width="2.45"/>
<path d="M118.75,415.6 L212.3,467.8 M118.75,411 L118.75,437 L211.2,490.8 M112,441 L118.75,437" fill="none" stroke="#111" stroke-width="2.45" stroke-linejoin="round"/>
<path d="M112.5,395.6 Q118.3,399.5 118.75,412 M123.9,401.8 L118.9,412.5" fill="none" stroke="#111" stroke-width="2.0" stroke-linecap="round"/>
<path d="M87.8,328.3 L96.5,324 L98.3,322.6 L101,325.3 L111.5,332 L111.7,363.6 Q97,359.5 87.8,349.8Z" fill="#111" stroke="#111" stroke-width="1.6" stroke-linejoin="round"/>
<path d="M91.8,328.6 Q95,327.2 97,329.4 T102.5,331.8 T109.5,336.5" fill="none" stroke="#fff" stroke-width="2.0" stroke-linecap="round"/>
<rect x="90.0" y="333.5" width="2.5" height="2.2" rx="0.5" fill="#fff"/>
<rect x="94.2" y="335.7" width="2.5" height="2.2" rx="0.5" fill="#fff"/>
<rect x="98.4" y="337.9" width="2.5" height="2.2" rx="0.5" fill="#fff"/>
<rect x="102.6" y="340.1" width="2.5" height="2.2" rx="0.5" fill="#fff"/>
<rect x="106.8" y="342.3" width="2.5" height="2.2" rx="0.5" fill="#fff"/>
<rect x="90.0" y="338.1" width="2.5" height="2.2" rx="0.5" fill="#fff"/>
<rect x="94.2" y="340.3" width="2.5" height="2.2" rx="0.5" fill="#fff"/>
<rect x="98.4" y="342.5" width="2.5" height="2.2" rx="0.5" fill="#fff"/>
<rect x="102.6" y="344.7" width="2.5" height="2.2" rx="0.5" fill="#fff"/>
<rect x="106.8" y="346.9" width="2.5" height="2.2" rx="0.5" fill="#fff"/>
<rect x="90.0" y="342.7" width="2.5" height="2.2" rx="0.5" fill="#fff"/>
<rect x="94.2" y="344.9" width="2.5" height="2.2" rx="0.5" fill="#fff"/>
<rect x="98.4" y="347.1" width="2.5" height="2.2" rx="0.5" fill="#fff"/>
<rect x="102.6" y="349.3" width="2.5" height="2.2" rx="0.5" fill="#fff"/>
<rect x="106.8" y="351.5" width="2.5" height="2.2" rx="0.5" fill="#fff"/>
<path d="M212.5,559.8 L219.5,544.3 L227.5,543.5 L251.0,544.5 L265.1,551.4 L265.5,568.3 L259.8,582.0 L232.4,587.9 L212.5,576.3Z" fill="#fff" stroke="#111" stroke-width="2.4" stroke-linejoin="round"/>
<path d="M212.5,559.8 L232.4,571.6 L259.8,567.3 L265.1,551.4 M232.4,571.6 L232.4,587.9 M259.8,567.3 L259.8,582" fill="none" stroke="#111" stroke-width="2.4" stroke-linejoin="round"/>
<ellipse cx="238.8" cy="557" rx="24.2" ry="11.3" transform="rotate(4 238.8 557)" fill="none" stroke="#111" stroke-width="2"/>
<path d="M219.2,581.5 L219.2,570.3 L225.6,574.8 L225.6,585" fill="#fff" stroke="#111" stroke-width="2.2" stroke-linejoin="round"/>
<path d="M218,581 L226.5,586" fill="none" stroke="#fff" stroke-width="3.4"/>
<path d="M221.4,572.2 L221.4,578.6 M219.2,580 L223.9,577.2 L221.4,576" fill="none" stroke="#111" stroke-width="1.8" stroke-linejoin="round"/>
<path d="M227.5,509.5 L227.5,557.2 Q239,564 251,556.5 L251,515Z" fill="#fff" stroke="#111" stroke-width="2.4" stroke-linejoin="round"/>
<path d="M227.8,516.0 Q230.4,516.5 233.0,515.8" fill="none" stroke="#111" stroke-width="1.7"/>
<path d="M227.8,518.6 Q231.2,519.3 234.5,518.4" fill="none" stroke="#111" stroke-width="1.7"/>
<path d="M227.8,521.5 Q234.9,522.9 242.0,521.0" fill="none" stroke="#111" stroke-width="1.7"/>
<path d="M227.8,524.5 Q235.7,526.0 243.5,523.9" fill="none" stroke="#111" stroke-width="1.7"/>
<path d="M227.8,527.5 Q236.9,529.3 246.0,526.9" fill="none" stroke="#111" stroke-width="1.7"/>
<path d="M227.8,530.3 Q239.2,532.5 250.5,529.5" fill="none" stroke="#111" stroke-width="1.7"/>
<path d="M227.8,533.6 Q239.2,535.8 250.5,532.8" fill="none" stroke="#111" stroke-width="1.7"/>
<path d="M227.8,537.2 Q239.2,539.4 250.5,536.4" fill="none" stroke="#111" stroke-width="1.7"/>
<path d="M227.8,541.0 Q239.2,543.2 250.5,540.2" fill="none" stroke="#111" stroke-width="1.7"/>
<path d="M227.8,544.6 Q239.2,546.8 250.5,543.8" fill="none" stroke="#111" stroke-width="1.7"/>
<path d="M227.8,548.2 Q239.2,550.4 250.5,547.4" fill="none" stroke="#111" stroke-width="1.7"/>
<path d="M227.8,551.8 Q239.2,554.0 250.5,551.0" fill="none" stroke="#111" stroke-width="1.7"/>
<path d="M227.8,555.2 Q239.2,557.4 250.5,554.4" fill="none" stroke="#111" stroke-width="1.7"/>
</svg>
</body></html>
